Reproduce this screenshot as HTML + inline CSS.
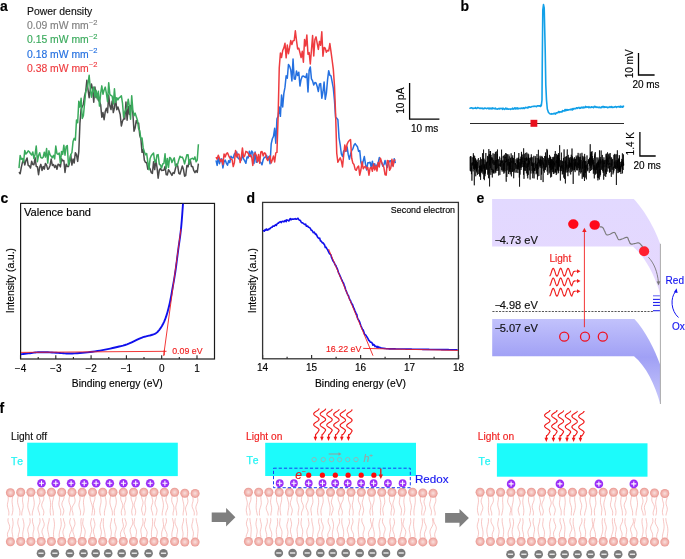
<!DOCTYPE html>
<html><head><meta charset="utf-8"><style>
html,body{margin:0;padding:0;background:#fff;width:685px;height:559px;overflow:hidden}
svg{display:block;will-change:transform}
text{font-family:"Liberation Sans",sans-serif}
</style></head><body>
<svg width="685" height="559" viewBox="0 0 685 559">
<text x="0" y="11" font-size="14" font-weight="bold" font-family="Liberation Sans, sans-serif" stroke="#000" stroke-width="0.15">a</text>
<text x="460.4" y="11" font-size="14" font-weight="bold" font-family="Liberation Sans, sans-serif" stroke="#000" stroke-width="0.15">b</text>
<text x="0.5" y="203" font-size="14" font-weight="bold" font-family="Liberation Sans, sans-serif" stroke="#000" stroke-width="0.15">c</text>
<text x="246.5" y="203" font-size="14" font-weight="bold" font-family="Liberation Sans, sans-serif" stroke="#000" stroke-width="0.15">d</text>
<text x="476.5" y="203" font-size="14" font-weight="bold" font-family="Liberation Sans, sans-serif" stroke="#000" stroke-width="0.15">e</text>
<text x="-0.5" y="413" font-size="14" font-weight="bold" font-family="Liberation Sans, sans-serif" stroke="#000" stroke-width="0.15">f</text>
<g font-family="Liberation Sans, sans-serif" font-size="10.4" stroke="#000" stroke-width="0.15">
<text x="27" y="15.3" fill="#111" stroke="#111" stroke-width="0.15">Power density</text>
<text x="27" y="29.3" fill="#808080" stroke="#808080" stroke-width="0.15">0.09 mW mm<tspan dy="-4.2" font-size="7.5">−2</tspan></text>
<text x="27" y="43.4" fill="#3aaa5c" stroke="#3aaa5c" stroke-width="0.15">0.15 mW mm<tspan dy="-4.2" font-size="7.5">−2</tspan></text>
<text x="27" y="57.5" fill="#2470e0" stroke="#2470e0" stroke-width="0.15">0.18 mW mm<tspan dy="-4.2" font-size="7.5">−2</tspan></text>
<text x="27" y="71.6" fill="#ee3b3f" stroke="#ee3b3f" stroke-width="0.15">0.38 mW mm<tspan dy="-4.2" font-size="7.5">−2</tspan></text>
</g>
<polyline fill="none" stroke="#4a4a4a" stroke-width="1.5" stroke-linejoin="round" points="19.00,172.13 20.15,173.75 21.30,167.35 22.45,162.38 23.60,160.02 24.75,164.95 25.90,160.62 27.05,157.94 28.20,165.27 29.35,166.00 30.50,168.02 31.65,161.31 32.80,164.62 33.95,164.73 35.10,157.83 36.25,166.46 37.40,166.67 38.55,174.65 39.70,167.22 40.85,164.39 42.00,170.48 43.15,166.40 44.30,169.13 45.45,163.39 46.60,165.26 47.75,169.35 48.90,168.33 50.05,165.40 51.20,159.10 52.35,165.42 53.50,164.55 54.65,167.45 55.80,165.41 56.95,169.24 58.10,164.27 59.25,164.69 60.40,166.94 61.55,158.76 62.70,160.78 63.85,160.55 65.00,172.44 66.15,164.15 67.30,166.45 68.45,166.58 69.60,162.19 70.75,154.72 71.90,165.07 73.05,159.08 74.20,163.00 75.35,152.66 76.50,154.67 77.65,161.37 78.80,151.69 79.95,123.09 81.10,108.85 82.25,106.70 83.40,104.19 84.55,96.15 85.70,91.79 86.85,80.25 88.00,89.51 89.15,97.70 90.30,89.97 91.45,83.90 92.60,89.44 93.75,102.24 94.90,86.90 96.05,97.58 97.20,93.59 98.35,100.25 99.50,101.40 100.65,104.67 101.80,117.25 102.95,112.58 104.10,119.66 105.25,111.53 106.40,108.31 107.55,112.64 108.70,95.37 109.85,105.77 111.00,109.59 112.15,101.06 113.30,112.62 114.45,107.93 115.60,97.95 116.75,109.74 117.90,107.00 119.05,110.56 120.20,114.52 121.35,126.00 122.50,121.25 123.65,118.80 124.80,119.07 125.95,101.95 127.10,120.25 128.25,106.38 129.40,114.40 130.55,105.45 131.70,107.20 132.85,113.24 134.00,131.32 135.15,127.74 136.30,120.44 137.45,123.26 138.60,123.12 139.75,135.20 140.90,138.96 142.05,152.35 143.20,149.46 144.35,160.15 145.50,162.54 146.65,162.62 147.80,169.23 148.95,167.24 150.10,168.98 151.25,172.60 152.40,173.35 153.55,161.85 154.70,169.60 155.85,160.21 157.00,167.28 158.15,178.17 159.30,170.13 160.45,168.30 161.60,170.56 162.75,170.17 163.90,170.15 165.05,166.42 166.20,174.61 167.35,174.92 168.50,169.73 169.65,171.46 170.80,173.35 171.95,175.42 173.10,172.51 174.25,173.36 175.40,168.78 176.55,164.11 177.70,165.99 178.85,173.33 180.00,174.08 181.15,170.09 182.30,165.94 183.45,169.33 184.60,176.14 185.75,175.50 186.90,165.49 188.05,166.82 189.20,160.11 190.35,160.40 191.50,166.54 192.65,166.47 193.80,170.72 194.95,172.59 196.10,170.60 197.25,172.40 198.40,163.58"/>
<polyline fill="none" stroke="#3aaa5c" stroke-width="1.5" stroke-linejoin="round" points="19.00,168.08 20.15,155.55 21.30,159.23 22.45,158.44 23.60,161.95 24.75,150.59 25.90,154.09 27.05,152.80 28.20,150.86 29.35,151.76 30.50,153.63 31.65,155.08 32.80,151.97 33.95,158.53 35.10,154.34 36.25,145.96 37.40,161.63 38.55,155.54 39.70,152.73 40.85,157.66 42.00,158.17 43.15,157.27 44.30,152.28 45.45,157.07 46.60,148.55 47.75,163.12 48.90,150.85 50.05,154.62 51.20,156.36 52.35,157.66 53.50,155.34 54.65,158.86 55.80,146.10 56.95,153.59 58.10,154.38 59.25,153.01 60.40,163.27 61.55,151.38 62.70,154.35 63.85,145.21 65.00,155.26 66.15,146.56 67.30,145.50 68.45,165.17 69.60,160.46 70.75,154.53 71.90,152.71 73.05,141.55 74.20,138.38 75.35,140.15 76.50,119.99 77.65,122.82 78.80,101.16 79.95,107.21 81.10,98.36 82.25,118.49 83.40,115.79 84.55,103.67 85.70,91.65 86.85,88.95 88.00,83.53 89.15,75.26 90.30,88.43 91.45,97.20 92.60,90.57 93.75,87.09 94.90,96.75 96.05,90.17 97.20,98.80 98.35,91.35 99.50,106.12 100.65,93.66 101.80,85.87 102.95,94.18 104.10,89.93 105.25,87.15 106.40,93.48 107.55,101.69 108.70,82.63 109.85,94.35 111.00,95.55 112.15,96.07 113.30,103.96 114.45,88.79 115.60,102.32 116.75,97.66 117.90,99.93 119.05,97.97 120.20,97.12 121.35,95.72 122.50,103.07 123.65,117.44 124.80,111.82 125.95,109.67 127.10,107.32 128.25,99.22 129.40,106.62 130.55,119.28 131.70,95.63 132.85,110.09 134.00,115.72 135.15,113.13 136.30,116.80 137.45,120.22 138.60,128.67 139.75,130.73 140.90,139.07 142.05,138.07 143.20,147.88 144.35,151.70 145.50,154.69 146.65,153.46 147.80,161.87 148.95,169.70 150.10,158.43 151.25,155.76 152.40,154.32 153.55,153.14 154.70,161.48 155.85,162.32 157.00,154.91 158.15,154.62 159.30,164.09 160.45,165.15 161.60,167.97 162.75,164.00 163.90,163.30 165.05,153.86 166.20,168.42 167.35,158.41 168.50,167.50 169.65,157.39 170.80,158.29 171.95,162.57 173.10,159.93 174.25,157.89 175.40,165.88 176.55,165.72 177.70,164.01 178.85,159.66 180.00,156.23 181.15,157.38 182.30,157.11 183.45,159.52 184.60,163.91 185.75,159.23 186.90,154.80 188.05,154.64 189.20,164.28 190.35,159.38 191.50,158.62 192.65,158.34 193.80,159.57 194.95,156.90 196.10,161.72 197.25,160.07 198.40,144.20"/>
<polyline fill="none" stroke="#2470e0" stroke-width="1.5" stroke-linejoin="round" points="216.00,160.40 217.15,165.37 218.30,156.85 219.45,163.74 220.60,159.46 221.75,158.81 222.90,167.89 224.05,161.85 225.20,160.10 226.35,163.11 227.50,165.26 228.65,160.66 229.80,162.60 230.95,156.25 232.10,157.88 233.25,157.82 234.40,154.01 235.55,152.69 236.70,151.99 237.85,157.78 239.00,158.93 240.15,158.48 241.30,160.07 242.45,154.33 243.60,158.81 244.75,160.83 245.90,163.32 247.05,156.90 248.20,157.84 249.35,151.18 250.50,156.54 251.65,150.98 252.80,152.61 253.95,163.57 255.10,152.04 256.25,162.20 257.40,161.72 258.55,158.93 259.70,161.79 260.85,162.51 262.00,164.82 263.15,159.74 264.30,157.44 265.45,157.05 266.60,155.36 267.75,159.11 268.90,156.53 270.05,163.68 271.20,143.84 272.35,138.79 273.50,136.43 274.65,128.26 275.80,143.30 276.95,118.76 278.10,116.22 279.25,107.02 280.40,116.37 281.55,94.92 282.70,107.04 283.85,93.37 285.00,87.14 286.15,75.78 287.30,78.22 288.45,64.48 289.60,66.11 290.75,69.86 291.90,80.89 293.05,58.92 294.20,78.96 295.35,79.15 296.50,70.92 297.65,75.57 298.80,72.22 299.95,86.05 301.10,79.40 302.25,76.18 303.40,76.10 304.55,76.76 305.70,77.50 306.85,73.62 308.00,91.88 309.15,70.20 310.30,66.91 311.45,78.81 312.60,80.94 313.75,85.02 314.90,82.49 316.05,82.95 317.20,86.52 318.35,91.50 319.50,83.91 320.65,83.63 321.80,98.24 322.95,92.01 324.10,82.03 325.25,99.29 326.40,93.14 327.55,79.84 328.70,70.65 329.85,75.24 331.00,75.82 332.15,81.79 333.30,88.18 334.45,100.21 335.60,117.49 336.75,118.18 337.90,119.69 339.05,137.83 340.20,144.76 341.35,154.02 342.50,156.50 343.65,151.02 344.80,150.64 345.95,151.35 347.10,146.93 348.25,154.63 349.40,159.23 350.55,154.19 351.70,150.50 352.85,148.86 354.00,145.26 355.15,143.61 356.30,145.33 357.45,146.71 358.60,151.38 359.75,150.57 360.90,162.38 362.05,166.26 363.20,161.00 364.35,156.49 365.50,164.17 366.65,169.93 367.80,162.87 368.95,162.76 370.10,162.27 371.25,167.27 372.40,161.24 373.55,168.30 374.70,163.77 375.85,168.19 377.00,164.95 378.15,163.22 379.30,157.55 380.45,159.95 381.60,162.00 382.75,166.11 383.90,164.85 385.05,160.54 386.20,164.48 387.35,167.41 388.50,162.91 389.65,160.89 390.80,160.66 391.95,165.63 393.10,165.10 394.25,158.67 395.40,163.13"/>
<polyline fill="none" stroke="#ee3b3f" stroke-width="1.5" stroke-linejoin="round" points="216.00,157.19 217.15,159.17 218.30,155.20 219.45,158.36 220.60,161.48 221.75,159.57 222.90,164.60 224.05,154.05 225.20,156.87 226.35,153.73 227.50,152.89 228.65,155.54 229.80,157.80 230.95,159.05 232.10,159.65 233.25,166.63 234.40,162.43 235.55,150.45 236.70,156.96 237.85,154.12 239.00,154.19 240.15,162.61 241.30,156.81 242.45,147.97 243.60,157.08 244.75,155.67 245.90,151.38 247.05,151.91 248.20,153.35 249.35,156.34 250.50,154.93 251.65,157.02 252.80,165.48 253.95,154.58 255.10,152.91 256.25,155.24 257.40,161.79 258.55,154.46 259.70,163.24 260.85,151.90 262.00,151.47 263.15,155.92 264.30,152.85 265.45,153.52 266.60,158.56 267.75,160.58 268.90,158.06 270.05,155.89 271.20,163.04 272.35,159.69 273.50,156.02 274.65,161.97 275.80,152.86 276.95,152.38 278.10,116.95 279.25,67.95 280.40,52.97 281.55,57.46 282.70,50.55 283.85,47.90 285.00,43.23 286.15,57.85 287.30,45.07 288.45,53.64 289.60,47.72 290.75,40.58 291.90,44.46 293.05,40.68 294.20,40.53 295.35,30.72 296.50,40.56 297.65,48.89 298.80,48.22 299.95,52.72 301.10,57.58 302.25,51.28 303.40,62.19 304.55,39.60 305.70,45.98 306.85,35.06 308.00,54.25 309.15,52.62 310.30,64.00 311.45,50.06 312.60,35.52 313.75,55.97 314.90,39.55 316.05,36.83 317.20,43.44 318.35,49.38 319.50,41.38 320.65,45.27 321.80,31.78 322.95,56.13 324.10,47.53 325.25,48.17 326.40,52.17 327.55,50.39 328.70,50.93 329.85,43.54 331.00,51.66 332.15,60.23 333.30,69.10 334.45,85.19 335.60,113.92 336.75,153.36 337.90,162.28 339.05,160.01 340.20,157.85 341.35,160.92 342.50,166.95 343.65,155.46 344.80,144.95 345.95,150.90 347.10,144.12 348.25,141.79 349.40,140.37 350.55,139.63 351.70,158.23 352.85,163.09 354.00,164.57 355.15,169.37 356.30,170.33 357.45,167.18 358.60,165.97 359.75,175.16 360.90,169.99 362.05,161.84 363.20,168.74 364.35,167.00 365.50,166.17 366.65,168.99 367.80,167.34 368.95,175.16 370.10,168.07 371.25,167.20 372.40,171.21 373.55,163.87 374.70,169.98 375.85,165.94 377.00,171.02 378.15,162.42 379.30,166.93 380.45,158.32 381.60,162.31 382.75,164.98 383.90,167.55 385.05,174.69 386.20,175.11 387.35,160.57 388.50,161.03 389.65,170.29 390.80,167.93 391.95,159.26 393.10,166.43 394.25,160.09 395.40,160.34"/>
<path d="M409.6,83 V119.2 H439.4" fill="none" stroke="#000" stroke-width="1.3"/>
<text x="0" y="0" font-size="10" font-family="Liberation Sans, sans-serif" transform="translate(404.2,113.8) rotate(-90)" stroke="#000" stroke-width="0.15">10 pA</text>
<text x="411" y="131.9" font-size="10" font-family="Liberation Sans, sans-serif" stroke="#000" stroke-width="0.15">10 ms</text>
<polyline fill="none" stroke="#12a0e8" stroke-width="1.6" stroke-linejoin="round" points="469.50,107.91 470.00,108.19 470.50,107.95 471.00,107.93 471.50,107.72 472.00,107.99 472.50,108.46 473.00,108.23 473.50,108.46 474.00,108.20 474.50,108.26 475.00,108.20 475.50,107.56 476.00,108.46 476.50,108.35 477.00,108.36 477.50,107.60 478.00,107.60 478.50,107.91 479.00,108.07 479.50,108.35 480.00,108.24 480.50,108.45 481.00,108.06 481.50,108.40 482.00,108.44 482.50,108.09 483.00,108.93 483.50,108.54 484.00,108.77 484.50,108.15 485.00,108.12 485.50,108.27 486.00,108.37 486.50,108.64 487.00,108.51 487.50,108.28 488.00,108.12 488.50,108.28 489.00,108.90 489.50,108.21 490.00,108.59 490.50,108.66 491.00,108.01 491.50,108.56 492.00,109.02 492.50,107.87 493.00,108.48 493.50,108.57 494.00,108.33 494.50,108.81 495.00,108.63 495.50,108.15 496.00,108.97 496.50,108.93 497.00,109.04 497.50,109.22 498.00,108.86 498.50,108.79 499.00,108.31 499.50,108.99 500.00,108.58 500.50,108.65 501.00,108.38 501.50,108.50 502.00,108.67 502.50,109.32 503.00,108.17 503.50,108.39 504.00,109.00 504.50,109.43 505.00,109.14 505.50,108.29 506.00,108.09 506.50,109.11 507.00,108.74 507.50,108.58 508.00,109.29 508.50,109.30 509.00,108.94 509.50,108.95 510.00,108.99 510.50,109.36 511.00,108.99 511.50,108.93 512.00,108.91 512.50,108.15 513.00,109.12 513.50,108.97 514.00,108.80 514.50,107.89 515.00,108.33 515.50,108.82 516.00,107.87 516.50,108.41 517.00,108.80 517.50,107.96 518.00,108.95 518.50,108.55 519.00,108.28 519.50,108.42 520.00,108.51 520.50,108.29 521.00,108.62 521.50,107.96 522.00,108.02 522.50,108.50 523.00,108.12 523.50,107.78 524.00,108.39 524.50,108.54 525.00,107.84 525.50,107.41 526.00,107.74 526.50,107.63 527.00,107.47 527.50,107.96 528.00,107.00 528.50,107.70 529.00,106.71 529.50,106.77 530.00,107.16 530.50,107.23 531.00,107.03 531.50,106.74 532.00,106.56 532.50,106.46 533.00,106.50 533.50,106.20 534.00,106.32 534.50,106.39 535.00,106.15 535.50,106.38 536.00,106.27 536.50,106.74 537.00,106.11 537.50,105.81 538.00,105.79 538.50,105.88 539.00,106.17 539.50,105.69 540.00,105.91 540.50,106.38 541.00,104.80 541.30,105.70 542.00,100.00 542.30,60.00 542.80,10.00 543.50,4.60 544.20,8.00 545.20,50.00 545.80,85.00 546.50,100.00 547.30,109.00 548.50,112.50 550.00,113.80 551.30,114.10 551.50,113.67 552.00,114.05 552.50,114.01 553.00,113.86 553.50,113.53 554.00,113.82 554.50,113.59 555.00,113.22 555.50,114.13 556.00,113.27 556.50,112.83 557.00,112.87 557.50,112.70 558.00,112.63 558.50,111.55 559.00,112.17 559.50,112.53 560.00,111.61 560.50,111.83 561.00,112.03 561.50,111.83 562.00,111.89 562.50,110.61 563.00,110.92 563.50,110.77 564.00,110.94 564.50,110.94 565.00,109.46 565.50,110.69 566.00,109.70 566.50,110.35 567.00,109.50 567.50,109.99 568.00,110.25 568.50,109.68 569.00,109.71 569.50,109.82 570.00,109.50 570.50,109.32 571.00,109.80 571.50,109.53 572.00,108.97 572.50,109.94 573.00,108.48 573.50,109.11 574.00,108.60 574.50,108.64 575.00,108.75 575.50,108.51 576.00,108.59 576.50,107.76 577.00,107.70 577.50,108.37 578.00,107.75 578.50,107.66 579.00,107.44 579.50,108.33 580.00,108.08 580.50,108.27 581.00,107.35 581.50,107.61 582.00,107.15 582.50,107.75 583.00,107.97 583.50,107.03 584.00,107.82 584.50,107.55 585.00,107.07 585.50,106.38 586.00,107.49 586.50,106.97 587.00,106.80 587.50,107.16 588.00,107.17 588.50,107.56 589.00,106.69 589.50,107.45 590.00,107.58 590.50,107.57 591.00,107.01 591.50,106.82 592.00,107.44 592.50,107.13 593.00,107.14 593.50,107.61 594.00,107.02 594.50,106.32 595.00,106.99 595.50,106.49 596.00,107.43 596.50,107.26 597.00,106.94 597.50,107.16 598.00,107.46 598.50,107.21 599.00,107.65 599.50,107.17 600.00,107.56 600.50,107.72 601.00,107.76 601.50,106.95 602.00,107.49 602.50,106.52 603.00,106.80 603.50,106.48 604.00,107.54 604.50,106.73 605.00,107.15 605.50,107.09 606.00,107.14 606.50,106.94 607.00,107.22 607.50,107.76 608.00,107.15 608.50,107.32 609.00,107.48 609.50,107.05 610.00,106.68 610.50,106.92 611.00,107.48 611.50,106.53 612.00,106.89 612.50,107.45 613.00,107.37 613.50,107.09 614.00,107.37 614.50,107.14 615.00,106.66 615.50,106.52 616.00,106.84 616.50,107.39 617.00,106.86 617.50,106.74 618.00,106.78 618.50,106.51 619.00,107.00 619.50,106.62 620.00,107.16 620.50,106.20 621.00,107.14 621.50,106.80 622.00,106.34 622.50,107.27 623.00,106.91 623.50,106.22 624.00,106.69"/>
<line x1="470" y1="123.5" x2="624" y2="123.5" stroke="#2a2a2a" stroke-width="1"/>
<rect x="530.5" y="119.8" width="6.8" height="7" fill="#e8101e"/>
<polyline fill="none" stroke="#000" stroke-width="0.7" points="470.00,156.79 470.12,166.88 470.24,170.77 470.36,161.27 470.48,156.13 470.60,164.09 470.72,167.51 470.84,171.42 470.96,156.84 471.08,156.35 471.20,168.95 471.32,167.49 471.44,174.16 471.56,170.69 471.68,163.86 471.80,162.77 471.92,180.69 472.04,162.68 472.16,159.55 472.28,157.33 472.40,165.10 472.52,165.42 472.64,162.33 472.76,164.11 472.88,166.22 473.00,168.86 473.12,171.41 473.24,165.82 473.36,153.22 473.48,168.92 473.60,155.56 473.72,163.42 473.84,155.22 473.96,164.51 474.08,159.60 474.20,165.85 474.32,185.29 474.44,164.19 474.56,169.81 474.68,156.16 474.80,162.69 474.92,168.67 475.04,163.92 475.16,166.83 475.28,165.15 475.40,158.16 475.52,168.05 475.64,159.38 475.76,176.29 475.88,161.32 476.00,168.82 476.12,164.51 476.24,170.50 476.36,160.71 476.48,170.79 476.60,163.72 476.72,172.46 476.84,168.43 476.96,165.39 477.08,159.58 477.20,169.34 477.32,167.45 477.44,174.84 477.56,162.12 477.68,167.99 477.80,167.70 477.92,166.28 478.04,165.81 478.16,165.65 478.28,160.73 478.40,158.11 478.52,162.00 478.64,168.22 478.76,174.02 478.88,170.66 479.00,171.14 479.12,169.40 479.24,168.90 479.36,165.66 479.48,169.36 479.60,175.67 479.72,162.44 479.84,160.13 479.96,176.85 480.08,166.04 480.20,170.62 480.32,170.01 480.44,157.34 480.56,179.83 480.68,175.69 480.80,165.61 480.92,169.24 481.04,165.30 481.16,158.93 481.28,163.79 481.40,166.86 481.52,171.53 481.64,168.97 481.76,164.87 481.88,173.04 482.00,159.71 482.12,169.50 482.24,171.51 482.36,162.66 482.48,153.22 482.60,158.79 482.72,165.99 482.84,167.83 482.96,174.25 483.08,158.17 483.20,164.51 483.32,168.59 483.44,163.51 483.56,149.57 483.68,169.58 483.80,179.07 483.92,170.83 484.04,158.72 484.16,161.90 484.28,165.90 484.40,180.18 484.52,168.39 484.64,165.22 484.76,174.31 484.88,163.99 485.00,176.23 485.12,160.18 485.24,161.51 485.36,169.04 485.48,173.47 485.60,168.62 485.72,166.40 485.84,153.02 485.96,160.01 486.08,160.65 486.20,161.14 486.32,168.19 486.44,162.39 486.56,169.46 486.68,165.02 486.80,162.40 486.92,165.24 487.04,167.20 487.16,169.91 487.28,161.49 487.40,163.03 487.52,155.91 487.64,174.60 487.76,173.65 487.88,163.37 488.00,161.49 488.12,156.71 488.24,165.57 488.36,165.80 488.48,178.24 488.60,166.05 488.72,159.60 488.84,149.10 488.96,173.38 489.08,165.69 489.20,154.36 489.32,165.64 489.44,154.37 489.56,186.43 489.68,171.55 489.80,168.11 489.92,163.40 490.04,151.02 490.16,163.70 490.28,154.71 490.40,168.26 490.52,151.03 490.64,158.78 490.76,172.18 490.88,174.86 491.00,157.06 491.12,154.84 491.24,170.04 491.36,169.87 491.48,158.28 491.60,160.13 491.72,160.13 491.84,157.01 491.96,160.21 492.08,172.38 492.20,168.84 492.32,177.46 492.44,163.96 492.56,163.65 492.68,158.31 492.80,163.72 492.92,156.23 493.04,153.30 493.16,168.89 493.28,173.57 493.40,169.77 493.52,172.89 493.64,166.09 493.76,159.98 493.88,165.04 494.00,162.14 494.12,157.50 494.24,153.84 494.36,155.16 494.48,164.47 494.60,165.45 494.72,161.51 494.84,173.50 494.96,165.63 495.08,168.17 495.20,172.18 495.32,159.33 495.44,152.09 495.56,169.24 495.68,160.16 495.80,172.76 495.92,166.63 496.04,170.84 496.16,169.31 496.28,151.39 496.40,169.03 496.52,160.26 496.64,159.74 496.76,161.76 496.88,169.34 497.00,170.07 497.12,170.87 497.24,154.04 497.36,160.78 497.48,149.53 497.60,163.86 497.72,168.28 497.84,159.69 497.96,166.04 498.08,165.96 498.20,170.85 498.32,159.33 498.44,159.28 498.56,159.69 498.68,175.54 498.80,171.37 498.92,163.72 499.04,165.92 499.16,165.22 499.28,165.78 499.40,163.19 499.52,162.39 499.64,156.58 499.76,160.46 499.88,174.90 500.00,167.88 500.12,164.91 500.24,163.15 500.36,164.89 500.48,166.73 500.60,160.43 500.72,165.74 500.84,166.01 500.96,159.78 501.08,159.53 501.20,158.21 501.32,157.80 501.44,170.11 501.56,149.63 501.68,162.82 501.80,160.65 501.92,160.60 502.04,165.11 502.16,171.61 502.28,164.98 502.40,163.62 502.52,160.64 502.64,163.69 502.76,170.25 502.88,162.02 503.00,157.28 503.12,156.54 503.24,157.53 503.36,155.74 503.48,171.42 503.60,166.74 503.72,163.00 503.84,173.70 503.96,160.36 504.08,169.24 504.20,169.55 504.32,154.76 504.44,154.69 504.56,158.66 504.68,170.21 504.80,172.67 504.92,156.77 505.04,171.11 505.16,162.09 505.28,162.02 505.40,161.03 505.52,162.46 505.64,153.04 505.76,158.19 505.88,156.72 506.00,167.59 506.12,177.66 506.24,181.71 506.36,162.38 506.48,153.66 506.60,161.94 506.72,158.58 506.84,176.99 506.96,168.10 507.08,159.91 507.20,170.40 507.32,167.88 507.44,154.26 507.56,161.15 507.68,162.99 507.80,164.62 507.92,165.33 508.04,162.36 508.16,165.70 508.28,160.81 508.40,158.85 508.52,174.05 508.64,166.77 508.76,167.26 508.88,154.45 509.00,163.45 509.12,169.66 509.24,156.37 509.36,171.42 509.48,162.05 509.60,167.04 509.72,163.66 509.84,165.88 509.96,172.08 510.08,161.96 510.20,174.36 510.32,159.57 510.44,158.63 510.56,168.98 510.68,157.78 510.80,162.17 510.92,170.21 511.04,172.13 511.16,153.32 511.28,167.69 511.40,176.37 511.52,172.03 511.64,162.99 511.76,160.72 511.88,162.63 512.00,157.24 512.12,162.83 512.24,163.32 512.36,163.58 512.48,171.95 512.60,163.05 512.72,155.32 512.84,171.12 512.96,157.74 513.08,161.68 513.20,163.66 513.32,162.33 513.44,158.18 513.56,162.93 513.68,178.26 513.80,160.68 513.92,163.64 514.04,171.58 514.16,169.19 514.28,169.31 514.40,169.93 514.52,152.10 514.64,159.06 514.76,165.31 514.88,167.64 515.00,172.65 515.12,167.46 515.24,163.00 515.36,164.75 515.48,163.17 515.60,166.06 515.72,168.75 515.84,162.36 515.96,159.37 516.08,159.12 516.20,171.41 516.32,172.57 516.44,170.75 516.56,169.90 516.68,169.75 516.80,164.49 516.92,168.68 517.04,157.87 517.16,163.22 517.28,159.88 517.40,169.08 517.52,160.85 517.64,163.82 517.76,167.02 517.88,173.03 518.00,159.51 518.12,158.59 518.24,169.65 518.36,157.53 518.48,167.35 518.60,160.91 518.72,163.83 518.84,153.03 518.96,168.99 519.08,161.35 519.20,158.84 519.32,177.59 519.44,168.98 519.56,186.61 519.68,167.07 519.80,162.31 519.92,165.18 520.04,174.62 520.16,164.33 520.28,167.34 520.40,167.75 520.52,158.77 520.64,165.31 520.76,161.33 520.88,156.65 521.00,169.99 521.12,168.69 521.24,164.97 521.36,158.78 521.48,151.86 521.60,167.56 521.72,163.88 521.84,153.89 521.96,164.12 522.08,154.92 522.20,164.33 522.32,165.40 522.44,166.74 522.56,165.87 522.68,165.58 522.80,157.32 522.92,162.08 523.04,161.28 523.16,163.02 523.28,166.20 523.40,168.40 523.52,174.80 523.64,148.32 523.76,167.03 523.88,163.25 524.00,178.84 524.12,170.38 524.24,154.09 524.36,167.03 524.48,161.22 524.60,170.76 524.72,157.85 524.84,163.86 524.96,163.67 525.08,163.89 525.20,160.82 525.32,152.92 525.44,167.40 525.56,170.79 525.68,164.07 525.80,158.09 525.92,165.78 526.04,168.06 526.16,163.39 526.28,164.41 526.40,173.38 526.52,157.45 526.64,160.99 526.76,152.49 526.88,160.09 527.00,159.84 527.12,158.45 527.24,160.13 527.36,175.82 527.48,163.26 527.60,163.78 527.72,178.35 527.84,164.12 527.96,153.58 528.08,167.04 528.20,158.60 528.32,174.82 528.44,156.65 528.56,160.84 528.68,154.38 528.80,165.11 528.92,158.10 529.04,164.09 529.16,162.13 529.28,160.64 529.40,170.44 529.52,170.39 529.64,164.89 529.76,158.83 529.88,157.76 530.00,166.20 530.12,179.56 530.24,161.62 530.36,159.56 530.48,160.11 530.60,157.60 530.72,158.37 530.84,163.21 530.96,173.53 531.08,164.49 531.20,161.28 531.32,154.33 531.44,165.84 531.56,164.33 531.68,156.77 531.80,157.65 531.92,164.23 532.04,170.88 532.16,168.45 532.28,165.80 532.40,162.46 532.52,166.52 532.64,164.42 532.76,178.19 532.88,157.37 533.00,162.18 533.12,172.49 533.24,162.83 533.36,173.48 533.48,164.22 533.60,165.42 533.72,162.17 533.84,155.80 533.96,158.38 534.08,178.45 534.20,168.57 534.32,168.32 534.44,170.51 534.56,168.09 534.68,170.94 534.80,162.82 534.92,163.09 535.04,170.70 535.16,162.28 535.28,156.12 535.40,163.08 535.52,161.07 535.64,168.36 535.76,159.96 535.88,157.81 536.00,162.41 536.12,174.28 536.24,164.20 536.36,165.51 536.48,164.56 536.60,166.36 536.72,170.35 536.84,173.29 536.96,154.14 537.08,173.08 537.20,164.48 537.32,162.48 537.44,179.61 537.56,163.43 537.68,176.75 537.80,170.60 537.92,158.01 538.04,167.58 538.16,169.14 538.28,163.71 538.40,149.83 538.52,162.33 538.64,163.29 538.76,157.52 538.88,176.00 539.00,162.96 539.12,162.02 539.24,162.61 539.36,159.56 539.48,159.61 539.60,165.09 539.72,166.47 539.84,161.30 539.96,163.93 540.08,155.74 540.20,167.79 540.32,159.78 540.44,165.85 540.56,158.79 540.68,161.25 540.80,165.85 540.92,156.87 541.04,180.06 541.16,164.27 541.28,164.04 541.40,159.87 541.52,174.55 541.64,173.23 541.76,166.39 541.88,155.88 542.00,161.32 542.12,168.38 542.24,161.27 542.36,157.04 542.48,157.02 542.60,159.64 542.72,164.59 542.84,160.41 542.96,164.61 543.08,182.09 543.20,175.67 543.32,157.96 543.44,166.66 543.56,165.05 543.68,163.63 543.80,171.07 543.92,162.41 544.04,162.45 544.16,162.14 544.28,163.87 544.40,172.60 544.52,169.39 544.64,156.05 544.76,161.72 544.88,159.47 545.00,169.64 545.12,165.92 545.24,170.11 545.36,164.11 545.48,152.47 545.60,167.34 545.72,165.93 545.84,167.70 545.96,156.29 546.08,165.01 546.20,160.17 546.32,160.17 546.44,166.73 546.56,166.72 546.68,158.88 546.80,153.71 546.92,148.91 547.04,160.88 547.16,171.57 547.28,164.15 547.40,150.32 547.52,159.07 547.64,167.16 547.76,175.04 547.88,171.86 548.00,166.81 548.12,165.74 548.24,157.83 548.36,161.65 548.48,162.40 548.60,159.62 548.72,164.90 548.84,162.03 548.96,166.62 549.08,173.53 549.20,169.17 549.32,167.13 549.44,162.98 549.56,154.92 549.68,163.78 549.80,167.92 549.92,158.15 550.04,172.40 550.16,162.40 550.28,166.84 550.40,162.43 550.52,156.59 550.64,177.53 550.76,157.18 550.88,170.29 551.00,161.00 551.12,166.26 551.24,159.42 551.36,161.88 551.48,170.30 551.60,176.76 551.72,159.17 551.84,164.56 551.96,170.47 552.08,160.53 552.20,168.98 552.32,159.56 552.44,168.30 552.56,167.25 552.68,172.13 552.80,166.79 552.92,156.98 553.04,168.69 553.16,157.56 553.28,169.23 553.40,174.02 553.52,168.25 553.64,161.01 553.76,172.01 553.88,165.56 554.00,156.66 554.12,162.27 554.24,173.44 554.36,162.58 554.48,165.27 554.60,162.34 554.72,153.88 554.84,161.28 554.96,166.75 555.08,165.81 555.20,163.40 555.32,151.05 555.44,172.20 555.56,169.03 555.68,170.95 555.80,172.69 555.92,161.70 556.04,160.69 556.16,166.48 556.28,175.04 556.40,153.88 556.52,163.05 556.64,159.99 556.76,168.02 556.88,173.73 557.00,162.64 557.12,156.68 557.24,164.81 557.36,162.70 557.48,154.78 557.60,170.08 557.72,161.20 557.84,168.80 557.96,156.21 558.08,171.41 558.20,155.42 558.32,171.14 558.44,153.09 558.56,173.19 558.68,162.14 558.80,154.70 558.92,163.02 559.04,166.63 559.16,158.26 559.28,161.39 559.40,166.20 559.52,163.44 559.64,145.19 559.76,161.79 559.88,167.19 560.00,166.37 560.12,170.86 560.24,160.15 560.36,180.59 560.48,169.54 560.60,166.47 560.72,171.34 560.84,170.51 560.96,165.14 561.08,160.59 561.20,170.95 561.32,167.17 561.44,152.58 561.56,157.54 561.68,167.44 561.80,165.18 561.92,166.26 562.04,168.54 562.16,165.42 562.28,174.47 562.40,160.79 562.52,161.98 562.64,166.53 562.76,169.20 562.88,169.46 563.00,173.87 563.12,161.50 563.24,171.85 563.36,167.45 563.48,157.93 563.60,163.63 563.72,177.64 563.84,169.45 563.96,161.54 564.08,149.39 564.20,159.87 564.32,160.07 564.44,164.99 564.56,179.06 564.68,169.20 564.80,166.47 564.92,158.61 565.04,157.03 565.16,163.19 565.28,161.55 565.40,183.44 565.52,161.95 565.64,160.62 565.76,171.61 565.88,164.99 566.00,156.72 566.12,172.62 566.24,162.53 566.36,156.13 566.48,166.52 566.60,167.57 566.72,162.37 566.84,168.89 566.96,169.67 567.08,158.94 567.20,151.54 567.32,149.43 567.44,163.69 567.56,172.25 567.68,170.82 567.80,173.27 567.92,176.19 568.04,164.60 568.16,171.15 568.28,154.87 568.40,168.84 568.52,166.97 568.64,163.91 568.76,161.71 568.88,157.47 569.00,165.38 569.12,172.55 569.24,162.19 569.36,167.85 569.48,160.31 569.60,166.10 569.72,158.15 569.84,166.88 569.96,163.13 570.08,166.49 570.20,160.68 570.32,157.09 570.44,162.43 570.56,171.03 570.68,174.45 570.80,162.45 570.92,169.54 571.04,169.28 571.16,166.97 571.28,154.73 571.40,166.54 571.52,158.39 571.64,171.91 571.76,169.47 571.88,168.39 572.00,148.52 572.12,168.41 572.24,168.91 572.36,156.45 572.48,170.61 572.60,164.98 572.72,163.35 572.84,160.01 572.96,158.08 573.08,161.77 573.20,183.94 573.32,165.78 573.44,165.81 573.56,160.42 573.68,160.61 573.80,161.02 573.92,158.92 574.04,170.02 574.16,162.80 574.28,169.96 574.40,157.22 574.52,170.35 574.64,164.33 574.76,168.70 574.88,163.84 575.00,158.91 575.12,172.13 575.24,161.76 575.36,163.57 575.48,158.92 575.60,165.79 575.72,162.05 575.84,166.28 575.96,166.67 576.08,160.16 576.20,155.61 576.32,167.23 576.44,170.28 576.56,168.89 576.68,157.28 576.80,168.31 576.92,166.92 577.04,166.29 577.16,167.21 577.28,162.46 577.40,165.85 577.52,170.34 577.64,161.32 577.76,155.43 577.88,163.84 578.00,165.74 578.12,152.88 578.24,160.24 578.36,168.21 578.48,163.55 578.60,165.08 578.72,156.57 578.84,170.21 578.96,175.55 579.08,163.24 579.20,159.89 579.32,157.21 579.44,170.11 579.56,165.16 579.68,159.50 579.80,172.15 579.92,169.32 580.04,168.30 580.16,153.41 580.28,163.85 580.40,168.44 580.52,156.79 580.64,170.35 580.76,173.51 580.88,171.01 581.00,159.95 581.12,160.04 581.24,170.43 581.36,170.76 581.48,172.24 581.60,172.06 581.72,163.87 581.84,161.92 581.96,152.81 582.08,169.44 582.20,178.84 582.32,161.58 582.44,161.50 582.56,168.59 582.68,166.86 582.80,155.87 582.92,160.00 583.04,157.58 583.16,177.24 583.28,159.98 583.40,169.88 583.52,176.58 583.64,176.44 583.76,173.48 583.88,174.77 584.00,156.72 584.12,162.32 584.24,159.91 584.36,162.67 584.48,181.01 584.60,153.92 584.72,168.02 584.84,156.71 584.96,172.93 585.08,172.69 585.20,161.28 585.32,177.54 585.44,164.97 585.56,172.71 585.68,166.46 585.80,160.97 585.92,162.10 586.04,163.76 586.16,168.39 586.28,165.29 586.40,179.37 586.52,163.28 586.64,161.56 586.76,159.97 586.88,159.60 587.00,155.43 587.12,158.29 587.24,170.21 587.36,164.88 587.48,163.42 587.60,166.71 587.72,171.23 587.84,168.38 587.96,169.37 588.08,160.97 588.20,162.85 588.32,159.61 588.44,163.89 588.56,159.35 588.68,162.15 588.80,163.40 588.92,163.14 589.04,162.82 589.16,161.40 589.28,172.75 589.40,162.34 589.52,158.13 589.64,165.72 589.76,157.64 589.88,157.74 590.00,165.03 590.12,154.00 590.24,144.22 590.36,166.32 590.48,171.02 590.60,153.97 590.72,158.85 590.84,168.14 590.96,151.98 591.08,158.99 591.20,156.91 591.32,163.25 591.44,152.07 591.56,170.14 591.68,163.59 591.80,166.41 591.92,162.43 592.04,151.14 592.16,163.54 592.28,156.05 592.40,164.56 592.52,159.13 592.64,162.50 592.76,163.17 592.88,169.37 593.00,169.33 593.12,158.17 593.24,164.40 593.36,173.69 593.48,167.61 593.60,159.91 593.72,163.74 593.84,162.31 593.96,170.43 594.08,164.71 594.20,166.86 594.32,178.43 594.44,155.82 594.56,158.11 594.68,153.59 594.80,154.47 594.92,169.90 595.04,166.34 595.16,174.78 595.28,152.06 595.40,158.95 595.52,173.60 595.64,170.98 595.76,170.07 595.88,169.99 596.00,164.70 596.12,164.44 596.24,164.70 596.36,169.81 596.48,163.47 596.60,166.52 596.72,173.66 596.84,157.41 596.96,159.77 597.08,168.06 597.20,162.84 597.32,163.51 597.44,177.72 597.56,167.12 597.68,161.87 597.80,171.42 597.92,180.36 598.04,157.51 598.16,160.28 598.28,165.23 598.40,160.49 598.52,178.18 598.64,167.81 598.76,161.99 598.88,167.59 599.00,159.49 599.12,160.69 599.24,165.17 599.36,179.54 599.48,150.32 599.60,167.15 599.72,173.01 599.84,169.16 599.96,176.61 600.08,167.34 600.20,165.42 600.32,163.67 600.44,159.10 600.56,174.80 600.68,157.05 600.80,163.72 600.92,161.20 601.04,159.55 601.16,150.50 601.28,162.09 601.40,165.36 601.52,165.40 601.64,169.82 601.76,163.48 601.88,160.46 602.00,166.44 602.12,168.69 602.24,158.81 602.36,154.93 602.48,158.04 602.60,171.16 602.72,170.79 602.84,158.92 602.96,165.20 603.08,169.78 603.20,172.87 603.32,160.35 603.44,162.99 603.56,173.38 603.68,179.69 603.80,174.14 603.92,157.31 604.04,167.33 604.16,162.62 604.28,164.13 604.40,160.32 604.52,161.48 604.64,164.44 604.76,175.86 604.88,168.91 605.00,167.19 605.12,164.67 605.24,159.77 605.36,163.06 605.48,172.31 605.60,169.73 605.72,176.87 605.84,166.14 605.96,164.37 606.08,154.30 606.20,167.01 606.32,153.64 606.44,174.11 606.56,160.53 606.68,164.50 606.80,155.99 606.92,161.38 607.04,158.63 607.16,171.63 607.28,166.06 607.40,157.07 607.52,152.33 607.64,164.07 607.76,161.43 607.88,157.50 608.00,168.22 608.12,163.33 608.24,165.20 608.36,160.78 608.48,160.91 608.60,161.60 608.72,154.40 608.84,168.47 608.96,167.04 609.08,153.64 609.20,165.14 609.32,171.77 609.44,165.99 609.56,172.66 609.68,162.81 609.80,164.51 609.92,156.31 610.04,158.80 610.16,153.01 610.28,158.86 610.40,166.04 610.52,167.77 610.64,171.83 610.76,165.32 610.88,158.26 611.00,167.22 611.12,163.58 611.24,175.74 611.36,176.84 611.48,170.55 611.60,157.34 611.72,161.19 611.84,165.70 611.96,160.01 612.08,167.80 612.20,168.82 612.32,169.78 612.44,165.94 612.56,158.93 612.68,159.19 612.80,163.72 612.92,172.86 613.04,174.42 613.16,170.66 613.28,166.79 613.40,168.76 613.52,169.68 613.64,172.64 613.76,169.89 613.88,154.83 614.00,170.51 614.12,166.93 614.24,161.60 614.36,167.81 614.48,166.32 614.60,164.16 614.72,153.86 614.84,165.20 614.96,168.01 615.08,164.19 615.20,154.49 615.32,167.39 615.44,169.03 615.56,165.64 615.68,167.18 615.80,162.28 615.92,160.35 616.04,167.80 616.16,162.26 616.28,165.65 616.40,185.01 616.52,168.99 616.64,165.35 616.76,154.28 616.88,165.11 617.00,169.28 617.12,160.06 617.24,163.00 617.36,150.30 617.48,168.00 617.60,160.75 617.72,168.81 617.84,173.10 617.96,163.48 618.08,170.70 618.20,166.08 618.32,163.21 618.44,162.73 618.56,159.14 618.68,172.59 618.80,170.05 618.92,158.16 619.04,169.81 619.16,159.90 619.28,155.02 619.40,172.05 619.52,156.44 619.64,171.96 619.76,165.76 619.88,170.18 620.00,167.72 620.12,171.77 620.24,166.69 620.36,168.14 620.48,166.07 620.60,171.40 620.72,162.03 620.84,170.90 620.96,173.99 621.08,164.10 621.20,167.27 621.32,161.26 621.44,162.68 621.56,166.14 621.68,162.35 621.80,158.92 621.92,164.31 622.04,165.71 622.16,166.54 622.28,168.97 622.40,153.32 622.52,173.40 622.64,163.42 622.76,159.64 622.88,162.16 623.00,167.29 623.12,169.98 623.24,162.19 623.36,165.49 623.48,154.45 623.60,165.57 623.72,163.79"/>
<path d="M638.5,53.1 V75 H654.6" fill="none" stroke="#000" stroke-width="1.3"/>
<text font-size="10" font-family="Liberation Sans, sans-serif" transform="translate(633.3,78.3) rotate(-90)" stroke="#000" stroke-width="0.15">10 mV</text>
<text x="632.4" y="87.8" font-size="10" font-family="Liberation Sans, sans-serif" stroke="#000" stroke-width="0.15">20 ms</text>
<path d="M639.9,132 V156 H655.7" fill="none" stroke="#000" stroke-width="1.3"/>
<text font-size="10" font-family="Liberation Sans, sans-serif" transform="translate(634.3,155.4) rotate(-90)" stroke="#000" stroke-width="0.15">1.4 K</text>
<text x="633.5" y="168.9" font-size="10" font-family="Liberation Sans, sans-serif" stroke="#000" stroke-width="0.15">20 ms</text>
<rect x="20.6" y="203.4" width="193.9" height="155.6" fill="none" stroke="#1a1a1a" stroke-width="1.2"/>
<line x1="20.5" y1="359" x2="20.5" y2="355.2" stroke="#222" stroke-width="1.1"/>
<text x="20.5" y="371.5" font-size="10" text-anchor="middle" font-family="Liberation Sans, sans-serif" stroke="#000" stroke-width="0.15">−4</text>
<line x1="55.8" y1="359" x2="55.8" y2="355.2" stroke="#222" stroke-width="1.1"/>
<text x="55.8" y="371.5" font-size="10" text-anchor="middle" font-family="Liberation Sans, sans-serif" stroke="#000" stroke-width="0.15">−3</text>
<line x1="91.1" y1="359" x2="91.1" y2="355.2" stroke="#222" stroke-width="1.1"/>
<text x="91.1" y="371.5" font-size="10" text-anchor="middle" font-family="Liberation Sans, sans-serif" stroke="#000" stroke-width="0.15">−2</text>
<line x1="126.4" y1="359" x2="126.4" y2="355.2" stroke="#222" stroke-width="1.1"/>
<text x="126.4" y="371.5" font-size="10" text-anchor="middle" font-family="Liberation Sans, sans-serif" stroke="#000" stroke-width="0.15">−1</text>
<line x1="161.7" y1="359" x2="161.7" y2="355.2" stroke="#222" stroke-width="1.1"/>
<text x="161.7" y="371.5" font-size="10" text-anchor="middle" font-family="Liberation Sans, sans-serif" stroke="#000" stroke-width="0.15">0</text>
<line x1="197.0" y1="359" x2="197.0" y2="355.2" stroke="#222" stroke-width="1.1"/>
<text x="197.0" y="371.5" font-size="10" text-anchor="middle" font-family="Liberation Sans, sans-serif" stroke="#000" stroke-width="0.15">1</text>
<line x1="38.2" y1="359" x2="38.2" y2="357" stroke="#222" stroke-width="1.1"/>
<line x1="73.4" y1="359" x2="73.4" y2="357" stroke="#222" stroke-width="1.1"/>
<line x1="108.8" y1="359" x2="108.8" y2="357" stroke="#222" stroke-width="1.1"/>
<line x1="144.0" y1="359" x2="144.0" y2="357" stroke="#222" stroke-width="1.1"/>
<line x1="179.3" y1="359" x2="179.3" y2="357" stroke="#222" stroke-width="1.1"/>
<text x="24" y="215.5" font-size="11.1" font-family="Liberation Sans, sans-serif" stroke="#000" stroke-width="0.15">Valence band</text>
<text font-size="10.3" text-anchor="middle" font-family="Liberation Sans, sans-serif" transform="translate(13.9,280.6) rotate(-90)" stroke="#000" stroke-width="0.15">Intensity (a.u.)</text>
<text x="117.3" y="386.7" font-size="10.3" text-anchor="middle" font-family="Liberation Sans, sans-serif" stroke="#000" stroke-width="0.15">Binding energy (eV)</text>
<polyline fill="none" stroke="#1010ec" stroke-width="1.9" stroke-linejoin="round" points="21.00,354.30 21.99,354.18 23.37,354.01 25.00,353.81 26.74,353.59 28.45,353.38 30.00,353.20 31.37,353.03 32.67,352.85 33.94,352.68 35.22,352.53 36.56,352.40 38.00,352.30 39.53,352.24 41.11,352.21 42.75,352.20 44.44,352.21 46.19,352.25 48.00,352.30 49.91,352.38 51.93,352.49 54.00,352.62 56.07,352.76 58.09,352.89 60.00,353.00 61.72,353.11 63.30,353.23 64.81,353.35 66.37,353.44 68.07,353.50 70.00,353.50 72.21,353.44 74.63,353.34 77.19,353.21 79.81,353.03 82.44,352.83 85.00,352.60 87.50,352.34 90.00,352.06 92.50,351.74 95.00,351.39 97.50,351.01 100.00,350.60 102.53,350.15 105.11,349.65 107.69,349.13 110.22,348.58 112.67,348.04 115.00,347.50 117.15,347.01 119.16,346.55 121.08,346.09 122.99,345.59 124.94,345.01 127.00,344.30 129.28,343.39 131.75,342.29 134.26,341.11 136.69,339.94 138.88,338.91 140.70,338.10 142.08,337.55 143.11,337.19 143.92,336.95 144.61,336.78 145.30,336.61 146.10,336.40 147.02,336.15 147.96,335.91 148.91,335.68 149.83,335.46 150.70,335.23 151.50,335.00 152.23,334.77 152.90,334.56 153.52,334.34 154.10,334.12 154.66,333.87 155.20,333.60 155.70,333.31 156.16,333.03 156.58,332.73 157.00,332.38 157.43,331.98 157.90,331.50 158.40,330.94 158.93,330.32 159.47,329.64 160.01,328.91 160.56,328.13 161.10,327.30 161.64,326.42 162.19,325.49 162.73,324.51 163.27,323.48 163.80,322.41 164.30,321.30 164.78,320.15 165.26,318.94 165.71,317.70 166.16,316.42 166.58,315.12 167.00,313.80 167.40,312.44 167.79,311.03 168.17,309.59 168.53,308.16 168.87,306.75 169.20,305.40 169.50,304.13 169.78,302.92 170.04,301.74 170.29,300.55 170.54,299.31 170.80,298.00 171.05,296.69 171.29,295.41 171.52,294.10 171.77,292.65 172.06,290.98 172.40,289.00 172.81,286.69 173.27,284.11 173.77,281.31 174.29,278.33 174.80,275.22 175.30,272.00 175.78,268.61 176.27,265.00 176.76,261.25 177.24,257.44 177.72,253.67 178.20,250.00 178.68,246.49 179.17,243.08 179.66,239.70 180.13,236.27 180.58,232.73 181.00,229.00 181.40,224.75 181.80,219.98 182.18,215.09 182.51,210.49 182.79,206.59 183.00,203.80"/>
<path d="M21,352.4 L166.5,351.3" fill="none" stroke="#f02020" stroke-width="0.9"/>
<path d="M163.6,355.8 L181,228.8" fill="none" stroke="#f02020" stroke-width="0.9"/>
<path d="M164.3,349.9 V355.3" stroke="#f02020" stroke-width="0.9"/>
<text x="172.2" y="353.9" font-size="8.8" fill="#f02020" font-family="Liberation Sans, sans-serif" stroke="#f02020" stroke-width="0.15">0.09 eV</text>
<rect x="262.6" y="202.4" width="195.79999999999995" height="156.4" fill="none" stroke="#333" stroke-width="1.3"/>
<line x1="262.6" y1="358.8" x2="262.6" y2="355.0" stroke="#333" stroke-width="1.2"/>
<text x="262.6" y="371.4" font-size="10" text-anchor="middle" font-family="Liberation Sans, sans-serif" stroke="#000" stroke-width="0.15">14</text>
<line x1="311.6" y1="358.8" x2="311.6" y2="355.0" stroke="#333" stroke-width="1.2"/>
<text x="311.6" y="371.4" font-size="10" text-anchor="middle" font-family="Liberation Sans, sans-serif" stroke="#000" stroke-width="0.15">15</text>
<line x1="360.6" y1="358.8" x2="360.6" y2="355.0" stroke="#333" stroke-width="1.2"/>
<text x="360.6" y="371.4" font-size="10" text-anchor="middle" font-family="Liberation Sans, sans-serif" stroke="#000" stroke-width="0.15">16</text>
<line x1="409.6" y1="358.8" x2="409.6" y2="355.0" stroke="#333" stroke-width="1.2"/>
<text x="409.6" y="371.4" font-size="10" text-anchor="middle" font-family="Liberation Sans, sans-serif" stroke="#000" stroke-width="0.15">17</text>
<line x1="458.6" y1="358.8" x2="458.6" y2="355.0" stroke="#333" stroke-width="1.2"/>
<text x="458.6" y="371.4" font-size="10" text-anchor="middle" font-family="Liberation Sans, sans-serif" stroke="#000" stroke-width="0.15">18</text>
<line x1="287.1" y1="358.8" x2="287.1" y2="356.8" stroke="#333" stroke-width="1.2"/>
<line x1="336.1" y1="358.8" x2="336.1" y2="356.8" stroke="#333" stroke-width="1.2"/>
<line x1="385.1" y1="358.8" x2="385.1" y2="356.8" stroke="#333" stroke-width="1.2"/>
<line x1="434.1" y1="358.8" x2="434.1" y2="356.8" stroke="#333" stroke-width="1.2"/>
<text x="455" y="212.9" font-size="8.9" text-anchor="end" font-family="Liberation Sans, sans-serif" stroke="#000" stroke-width="0.15">Second electron</text>
<text font-size="10.3" text-anchor="middle" font-family="Liberation Sans, sans-serif" transform="translate(256,280.6) rotate(-90)" stroke="#000" stroke-width="0.15">Intensity (a.u.)</text>
<text x="360.5" y="387.1" font-size="10.3" text-anchor="middle" font-family="Liberation Sans, sans-serif" stroke="#000" stroke-width="0.15">Binding energy (eV)</text>
<polyline fill="none" stroke="#1010ec" stroke-width="1.6" stroke-linejoin="round" points="263.00,230.97 263.70,230.68 264.40,231.20 265.10,229.57 265.80,230.24 266.50,228.98 267.20,230.20 267.90,229.49 268.60,229.71 269.30,228.57 270.00,228.68 270.70,227.92 271.40,227.27 272.10,227.21 272.80,226.13 273.50,226.09 274.20,226.11 274.90,225.37 275.60,224.71 276.30,225.43 277.00,224.02 277.70,223.28 278.40,223.16 279.10,222.40 279.80,222.01 280.50,221.62 281.20,222.54 281.90,221.49 282.60,221.41 283.30,221.49 284.00,221.94 284.70,220.78 285.40,220.45 286.10,221.70 286.80,219.78 287.50,220.12 288.20,220.44 288.90,221.02 289.60,219.41 290.30,218.60 291.00,219.84 291.70,219.16 292.40,219.07 293.10,219.32 293.80,219.10 294.50,219.01 295.20,218.56 295.90,219.22 296.60,219.20 297.30,218.42 298.00,218.21 298.70,219.52 299.40,220.19 300.10,220.28 300.80,221.32 301.50,222.74 302.20,222.68 302.90,223.04 303.60,223.75 304.30,224.10 305.00,224.57 305.70,224.17 306.40,226.28 307.10,226.05 307.80,226.02 308.50,227.32 309.20,227.48 309.90,227.81 310.60,228.94 311.30,230.30 312.00,230.34 312.70,231.62 313.40,232.69 314.10,232.07 314.80,233.11 315.50,234.51 316.20,234.20 316.90,235.66 317.60,237.18 318.30,237.88 319.00,238.49 319.70,238.19 320.40,240.91 321.10,241.00 321.80,242.07 322.50,242.92 323.20,242.89 323.90,243.99 324.60,245.06 325.30,247.44 326.00,247.17 326.70,248.41 327.40,249.37 328.10,250.95 328.80,252.30 329.50,253.59 330.20,254.29 330.90,254.83 331.60,257.70 332.30,259.13 333.00,260.95 333.70,261.78 334.40,262.98 335.10,264.87 335.80,265.41 336.50,267.07 337.20,268.51 337.90,270.52 338.60,272.93 339.30,274.05 340.00,275.95 340.70,277.27 341.40,279.01 342.10,280.41 342.80,282.21 343.50,282.97 344.20,285.25 344.90,286.93 345.60,289.57 346.30,291.12 347.00,292.96 347.70,294.77 348.40,295.55 349.10,297.79 349.80,299.82 350.50,300.56 351.20,302.67 351.90,303.73 352.60,304.71 353.30,307.11 354.00,308.31 354.70,310.35 355.40,311.77 356.10,313.83 356.80,314.43 357.50,318.04 358.20,319.43 358.90,320.37 359.60,321.82 360.30,323.94 361.00,325.96 361.70,327.55 362.40,329.25 363.10,329.89 363.80,331.82 364.50,334.10 365.20,334.77 365.90,335.15 366.60,336.61 367.30,337.52 368.00,338.60 368.70,340.38 369.40,340.54 370.10,341.93 370.80,342.30 371.50,342.32 372.20,343.30 372.90,345.24 373.60,344.45 374.30,344.92 375.00,346.56 375.70,346.33 376.40,346.58 377.10,347.55 377.80,346.37 378.50,347.66 379.20,347.27 379.90,347.23 380.60,347.96 381.30,348.05 382.00,348.14 382.70,348.23 383.40,348.32 384.10,348.41 384.80,348.50 385.50,348.58 386.20,348.67 386.90,348.76 387.60,348.81 388.30,348.82 389.00,348.83 389.70,348.84 390.40,348.85 391.10,348.86 391.80,348.87 392.50,348.88 393.20,348.89 393.90,348.90 394.60,348.91 395.30,348.92 396.00,348.93 396.70,348.94 397.40,348.96 398.10,348.97 398.80,348.98 399.50,348.99 400.20,349.00 400.90,349.01 401.60,349.02 402.30,349.03 403.00,349.04 403.70,349.05 404.40,349.06 405.10,349.07 405.80,349.08 406.50,349.09 407.20,349.10 407.90,349.12 408.60,349.13 409.30,349.14 410.00,349.15 410.70,349.16 411.40,349.17 412.10,349.18 412.80,349.19 413.50,349.20 414.20,349.21 414.90,349.22 415.60,349.23 416.30,349.24 417.00,349.25 417.70,349.26 418.40,349.28 419.10,349.29 419.80,349.30 420.50,349.31 421.20,349.32 421.90,349.32 422.60,349.33 423.30,349.34 424.00,349.35 424.70,349.36 425.40,349.37 426.10,349.38 426.80,349.39 427.50,349.40 428.20,349.41 428.90,349.42 429.60,349.43 430.30,349.44 431.00,349.44 431.70,349.45 432.40,349.46 433.10,349.47 433.80,349.48 434.50,349.49 435.20,349.50 435.90,349.51 436.60,349.52 437.30,349.53 438.00,349.54 438.70,349.55 439.40,349.56 440.10,349.56 440.80,349.57 441.50,349.58 442.20,349.59 442.90,349.60 443.60,349.61 444.30,349.62 445.00,349.63 445.70,349.64 446.40,349.65 447.10,349.66 447.80,349.67 448.50,349.67 449.20,349.68 449.90,349.69 450.60,349.70 451.30,349.71 452.00,349.72 452.70,349.73 453.40,349.74 454.10,349.75 454.80,349.76 455.50,349.77 456.20,349.78 456.90,349.79 457.60,349.79"/>
<path d="M328.6,249 L373,355.7" stroke="#f02020" stroke-width="0.9"/>
<path d="M363.2,348.4 L458,350.4" stroke="#f02020" stroke-width="0.9"/>
<text x="325.9" y="351.7" font-size="8.9" fill="#f02020" font-family="Liberation Sans, sans-serif" stroke="#f02020" stroke-width="0.15">16.22 eV</text>
<defs><linearGradient id="ub" x1="0" y1="0" x2="0" y2="1"><stop offset="0" stop-color="#e2d9ff"/><stop offset="1" stop-color="#e6d8fe"/></linearGradient><linearGradient id="lb" x1="0" y1="0" x2="0" y2="1"><stop offset="0" stop-color="#c6c6fb"/><stop offset="1" stop-color="#a2a2f5"/></linearGradient><linearGradient id="lb2" x1="0" y1="0" x2="0" y2="1"><stop offset="0" stop-color="#c2c2fc"/><stop offset="0.45" stop-color="#a0a0f5"/><stop offset="1" stop-color="#c8c8fb"/></linearGradient><radialGradient id="hd" cx="0.5" cy="0.5" r="0.5"><stop offset="0" stop-color="#f9e0dd"/><stop offset="0.6" stop-color="#f2b8b3"/><stop offset="1" stop-color="#e99790"/></radialGradient></defs>
<path d="M492.1,198.9 H633.7 C643,208 655,228 660.2,243.8 V294 C655,276 646,258 633,246.4 H492.1 Z" fill="url(#ub)"/>
<path d="M492.2,319 H634.4 C645,330 655,350 660.3,365 V404 C655,385 646,366 634,356.3 H492.2 Z" fill="url(#lb2)"/>
<line x1="660.4" y1="243.8" x2="660.4" y2="404" stroke="#aaa" stroke-width="1"/>
<line x1="492.4" y1="311.5" x2="653" y2="311.5" stroke="#3a3a3a" stroke-width="0.85" stroke-dasharray="2.1,1.2"/>
<line x1="653" y1="295.8" x2="659.9" y2="295.8" stroke="#6a6af5" stroke-width="1.1"/>
<line x1="653" y1="299.4" x2="659.9" y2="299.4" stroke="#2222ee" stroke-width="1.1"/>
<line x1="653" y1="302.5" x2="659.9" y2="302.5" stroke="#2222ee" stroke-width="1.1"/>
<line x1="653" y1="305.4" x2="659.9" y2="305.4" stroke="#2222ee" stroke-width="1.1"/>
<line x1="653" y1="310.7" x2="659.9" y2="310.7" stroke="#2222ee" stroke-width="1.1"/>
<g font-size="11.1" font-family="Liberation Sans, sans-serif" fill="#111" stroke="#111" stroke-width="0.15">
<text x="494.8" y="243.8"><tspan letter-spacing="-1.6">−</tspan>4.73 eV</text><text x="494.8" y="308.7"><tspan letter-spacing="-1.6">−</tspan>4.98 eV</text><text x="494.8" y="331.9"><tspan letter-spacing="-1.6">−</tspan>5.07 eV</text></g>
<ellipse cx="573.3" cy="224.1" rx="5.2" ry="4.8" fill="#ff0a1a"/>
<ellipse cx="594.7" cy="225" rx="5.2" ry="4.8" fill="#ff0a1a"/>
<ellipse cx="644.1" cy="251.3" rx="5.1" ry="5" fill="#ff2030"/>
<circle cx="564.2" cy="336.7" r="4.5" fill="none" stroke="#f01020" stroke-width="1.3"/>
<circle cx="585" cy="336.7" r="4.5" fill="none" stroke="#f01020" stroke-width="1.3"/>
<circle cx="602.8" cy="336.7" r="4.5" fill="none" stroke="#f01020" stroke-width="1.3"/>
<line x1="584.4" y1="327.2" x2="584.4" y2="231" stroke="#f02020" stroke-width="0.9"/>
<path d="M582.2,232 L584.4,227.8 L586.6,232 Z" fill="#f02020"/>
<polyline fill="none" stroke="#7a7a7a" stroke-width="1.15" stroke-linejoin="round" points="599.40,226.80 599.85,226.83 600.51,226.85 601.25,226.92 601.99,227.08 602.60,227.40 603.08,227.92 603.49,228.61 603.86,229.40 604.22,230.22 604.60,231.00 604.98,231.82 605.33,232.72 605.70,233.59 606.11,234.32 606.60,234.80 607.18,234.98 607.82,234.93 608.51,234.74 609.24,234.47 610.00,234.20 610.84,233.84 611.76,233.33 612.70,232.82 613.57,232.47 614.30,232.40 614.86,232.69 615.29,233.24 615.65,233.95 616.00,234.74 616.40,235.50 616.82,236.33 617.23,237.30 617.66,238.26 618.14,239.08 618.70,239.60 619.35,239.76 620.07,239.67 620.85,239.41 621.66,239.08 622.50,238.80 623.42,238.47 624.42,238.02 625.43,237.59 626.35,237.30 627.10,237.30 627.62,237.65 627.97,238.27 628.24,239.04 628.49,239.86 628.80,240.60 629.15,241.33 629.50,242.14 629.86,242.91 630.29,243.56 630.80,244.00 631.43,244.17 632.15,244.13 632.92,243.96 633.72,243.76 634.50,243.60 635.29,243.45 636.13,243.24 636.95,243.04 637.73,242.91 638.40,242.90 638.95,243.03 639.41,243.26 639.82,243.56 640.20,243.92 640.60,244.30 641.04,244.77 641.51,245.34 641.95,245.93 642.33,246.44 642.60,246.80"/>
<path d="M648.4,257.2 C654,263 657.5,272 658.4,282" fill="none" stroke="#777" stroke-width="0.9"/>
<path d="M656.6,281.5 L658.6,285.5 L660.3,281.3 Z" fill="#777"/>
<text x="549.5" y="261.6" font-size="10" fill="#f02020" font-family="Liberation Sans, sans-serif" stroke="#f02020" stroke-width="0.15">Light</text>
<polyline fill="none" stroke="#f02020" stroke-width="1.15" points="549.50,276.10 550.06,275.67 550.62,274.49 551.17,272.81 551.73,270.99 552.29,269.44 552.85,268.49 553.40,268.35 553.96,269.04 554.52,270.43 555.08,272.20 555.63,273.97 556.19,275.36 556.75,276.05 557.30,275.91 557.86,274.96 558.42,273.41 558.98,271.59 559.53,269.91 560.09,268.73 560.65,268.30 561.21,268.73 561.76,269.91 562.32,271.59 562.88,273.41 563.44,274.96 564.00,275.91 564.55,276.05 565.11,275.36 565.67,273.97 566.23,272.20 566.78,270.43 567.34,269.04 567.90,268.35 568.46,268.49 569.01,269.44 569.57,270.99 570.13,272.81 570.68,274.49 571.24,275.67 571.80,276.10 573.50,271.70 575.00,271.20"/>
<path d="M574.5,271.2 H578" stroke="#f02020" stroke-width="0.9"/><path d="M577,269.2 L580.5,271.2 L577,273.2 Z" fill="#f02020"/>
<polyline fill="none" stroke="#f02020" stroke-width="1.15" points="549.50,285.80 550.06,285.37 550.62,284.19 551.17,282.51 551.73,280.69 552.29,279.14 552.85,278.19 553.40,278.05 553.96,278.74 554.52,280.13 555.08,281.90 555.63,283.67 556.19,285.06 556.75,285.75 557.30,285.61 557.86,284.66 558.42,283.11 558.98,281.29 559.53,279.61 560.09,278.43 560.65,278.00 561.21,278.43 561.76,279.61 562.32,281.29 562.88,283.11 563.44,284.66 564.00,285.61 564.55,285.75 565.11,285.06 565.67,283.67 566.23,281.90 566.78,280.13 567.34,278.74 567.90,278.05 568.46,278.19 569.01,279.14 569.57,280.69 570.13,282.51 570.68,284.19 571.24,285.37 571.80,285.80 573.50,281.40 575.00,280.90"/>
<path d="M574.5,280.9 H578" stroke="#f02020" stroke-width="0.9"/><path d="M577,278.9 L580.5,280.9 L577,282.9 Z" fill="#f02020"/>
<polyline fill="none" stroke="#f02020" stroke-width="1.15" points="549.50,296.10 550.06,295.67 550.62,294.49 551.17,292.81 551.73,290.99 552.29,289.44 552.85,288.49 553.40,288.35 553.96,289.04 554.52,290.43 555.08,292.20 555.63,293.97 556.19,295.36 556.75,296.05 557.30,295.91 557.86,294.96 558.42,293.41 558.98,291.59 559.53,289.91 560.09,288.73 560.65,288.30 561.21,288.73 561.76,289.91 562.32,291.59 562.88,293.41 563.44,294.96 564.00,295.91 564.55,296.05 565.11,295.36 565.67,293.97 566.23,292.20 566.78,290.43 567.34,289.04 567.90,288.35 568.46,288.49 569.01,289.44 569.57,290.99 570.13,292.81 570.68,294.49 571.24,295.67 571.80,296.10 573.50,291.70 575.00,291.20"/>
<path d="M574.5,291.2 H578" stroke="#f02020" stroke-width="0.9"/><path d="M577,289.2 L580.5,291.2 L577,293.2 Z" fill="#f02020"/>
<text x="665.6" y="283.8" font-size="10" fill="#1414f0" font-family="Liberation Sans, sans-serif" stroke="#1414f0" stroke-width="0.15">Red</text>
<text x="671.9" y="330.2" font-size="10" fill="#1414f0" font-family="Liberation Sans, sans-serif" stroke="#1414f0" stroke-width="0.15">Ox</text>
<path d="M678.5,317.5 C671,311 670,298 675.6,291.5" fill="none" stroke="#1414f0" stroke-width="1"/>
<path d="M673.8,292.3 L676.6,288.2 L677.6,293 Z" fill="#1414f0"/>
<path d="M8.00,496.50 L8.25,498.08 L8.27,499.67 L8.04,501.25 L7.68,502.83 L7.41,504.42 L7.40,506.00 L7.70,507.58 L8.19,509.17 L8.65,510.75 L8.90,512.33 L8.87,513.92 L8.70,515.50 M8.22,518.20 L7.93,519.85 L8.05,521.49 L8.57,523.14 L9.25,524.78 L9.69,526.43 L9.65,528.08 L9.10,529.72 L8.30,531.37 L7.64,533.01 L7.40,534.66 L7.60,536.30 L8.00,537.95 M12.80,496.50 L12.42,498.08 L12.16,499.67 L12.07,501.25 L12.15,502.83 L12.36,504.42 L12.61,506.00 L12.83,507.58 L12.92,509.17 L12.85,510.75 L12.60,512.33 L12.23,513.92 L11.81,515.50 M12.49,518.20 L12.69,519.85 L12.95,521.49 L13.09,523.14 L13.00,524.78 L12.69,526.43 L12.30,528.08 L12.03,529.72 L12.00,531.37 L12.20,533.01 L12.51,534.66 L12.76,536.30 L12.80,537.95 M18.26,496.00 L17.97,497.62 L17.71,499.25 L17.59,500.88 L17.67,502.50 L17.97,504.12 L18.42,505.75 L18.95,507.38 L19.44,509.00 L19.80,510.62 L19.96,512.25 L19.91,513.88 L19.69,515.50 M18.47,518.20 L18.15,519.83 L17.83,521.45 L17.76,523.08 L18.06,524.70 L18.62,526.33 L19.19,527.95 L19.48,529.58 L19.38,531.20 L18.97,532.83 L18.49,534.45 L18.21,536.08 L18.26,537.70 M23.06,496.00 L22.74,497.62 L22.53,499.25 L22.54,500.88 L22.76,502.50 L23.04,504.12 L23.21,505.75 L23.11,507.38 L22.77,509.00 L22.31,510.62 L21.93,512.25 L21.75,513.88 L21.79,515.50 M22.76,518.20 L23.14,519.83 L23.53,521.45 L23.84,523.08 L23.99,524.70 L23.95,526.33 L23.73,527.95 L23.40,529.58 L23.05,531.20 L22.79,532.83 L22.70,534.45 L22.79,536.08 L23.06,537.70 M28.52,496.00 L28.67,497.62 L28.60,499.25 L28.38,500.88 L28.10,502.50 L27.86,504.12 L27.77,505.75 L27.89,507.38 L28.22,509.00 L28.71,510.62 L29.26,512.25 L29.77,513.88 L30.12,515.50 M29.77,518.20 L30.02,519.83 L30.18,521.45 L30.02,523.08 L29.47,524.70 L28.71,526.33 L28.05,527.95 L27.74,529.58 L27.87,531.20 L28.28,532.83 L28.66,534.45 L28.77,536.08 L28.52,537.70 M33.32,496.00 L33.49,497.62 L33.76,499.25 L34.04,500.88 L34.24,502.50 L34.27,504.12 L34.10,505.75 L33.76,507.38 L33.32,509.00 L32.86,510.62 L32.49,512.25 L32.28,513.88 L32.27,515.50 M32.60,518.20 L32.44,519.83 L32.48,521.45 L32.80,523.08 L33.29,524.70 L33.75,526.33 L33.96,527.95 L33.84,529.58 L33.49,531.20 L33.12,532.83 L32.94,534.45 L33.03,536.08 L33.32,537.70 M38.78,496.00 L39.19,497.62 L39.70,499.25 L39.99,500.88 L39.84,502.50 L39.26,504.12 L38.54,505.75 L38.04,507.38 L38.01,509.00 L38.44,510.62 L39.06,512.25 L39.55,513.88 L39.65,515.50 M39.69,518.20 L39.95,519.83 L40.04,521.45 L39.75,523.08 L39.13,524.70 L38.42,526.33 L37.94,527.95 L37.87,529.58 L38.21,531.20 L38.71,532.83 L39.08,534.45 L39.09,536.08 L38.78,537.70 M43.58,496.00 L43.86,497.62 L43.74,499.25 L43.17,500.88 L42.40,502.50 L41.81,504.12 L41.73,505.75 L42.18,507.38 L42.94,509.00 L43.61,510.62 L43.87,512.25 L43.66,513.88 L43.20,515.50 M42.58,518.20 L42.88,519.83 L43.49,521.45 L44.07,523.08 L44.26,524.70 L43.90,526.33 L43.14,527.95 L42.37,529.58 L41.96,531.20 L42.09,532.83 L42.64,534.45 L43.26,536.08 L43.58,537.70 M49.04,496.00 L49.48,497.62 L49.93,499.25 L50.30,500.88 L50.54,502.50 L50.62,504.12 L50.56,505.75 L50.42,507.38 L50.26,509.00 L50.18,510.62 L50.23,512.25 L50.44,513.88 L50.80,515.50 M49.27,518.20 L49.17,519.83 L48.89,521.45 L48.50,523.08 L48.09,524.70 L47.78,526.33 L47.64,527.95 L47.70,529.58 L47.94,531.20 L48.30,532.83 L48.66,534.45 L48.94,536.08 L49.04,537.70 M53.84,496.00 L53.56,497.62 L53.18,499.25 L52.79,500.88 L52.47,502.50 L52.31,504.12 L52.32,505.75 L52.50,507.38 L52.78,509.00 L53.07,510.62 L53.29,512.25 L53.35,513.88 L53.24,515.50 M53.61,518.20 L53.91,519.83 L54.20,521.45 L54.41,523.08 L54.48,524.70 L54.40,526.33 L54.20,527.95 L53.93,529.58 L53.68,531.20 L53.51,532.83 L53.48,534.45 L53.60,536.08 L53.84,537.70 M59.30,496.00 L59.51,497.62 L59.47,499.25 L59.22,500.88 L58.95,502.50 L58.88,504.12 L59.12,505.75 L59.62,507.38 L60.20,509.00 L60.62,510.62 L60.77,512.25 L60.69,513.88 L60.54,515.50 M60.61,518.20 L60.85,519.83 L61.09,521.45 L61.23,523.08 L61.21,524.70 L61.01,526.33 L60.64,527.95 L60.18,529.58 L59.72,531.20 L59.36,532.83 L59.16,534.45 L59.15,536.08 L59.30,537.70 M64.10,496.00 L64.09,497.62 L63.63,499.25 L62.86,500.88 L62.15,502.50 L61.86,504.12 L62.12,505.75 L62.78,507.38 L63.47,509.00 L63.82,510.62 L63.66,512.25 L63.14,513.88 L62.58,515.50 M63.38,518.20 L63.54,519.83 L64.02,521.45 L64.57,523.08 L64.86,524.70 L64.70,526.33 L64.13,527.95 L63.43,529.58 L62.96,531.20 L62.91,532.83 L63.26,534.45 L63.77,536.08 L64.10,537.70 M69.56,496.00 L69.30,497.62 L68.99,499.25 L68.89,500.88 L69.15,502.50 L69.70,504.12 L70.32,505.75 L70.72,507.38 L70.75,509.00 L70.44,510.62 L70.02,512.25 L69.75,513.88 L69.78,515.50 M70.57,518.20 L70.05,519.83 L69.68,521.45 L69.73,523.08 L70.24,524.70 L70.96,526.33 L71.52,527.95 L71.61,529.58 L71.16,531.20 L70.41,532.83 L69.73,534.45 L69.43,536.08 L69.56,537.70 M74.36,496.00 L74.61,497.62 L74.99,499.25 L75.12,500.88 L74.75,502.50 L73.92,504.12 L72.92,505.75 L72.17,507.38 L71.92,509.00 L72.19,510.62 L72.69,512.25 L73.03,513.88 L72.95,515.50 M73.80,518.20 L74.17,519.83 L74.68,521.45 L75.00,523.08 L74.87,524.70 L74.28,526.33 L73.51,527.95 L72.93,529.58 L72.80,531.20 L73.16,532.83 L73.76,534.45 L74.25,536.08 L74.36,537.70 M79.82,496.00 L80.06,497.62 L80.04,499.25 L79.74,500.88 L79.31,502.50 L78.99,504.12 L78.98,505.75 L79.32,507.38 L79.85,509.00 L80.34,510.62 L80.56,512.25 L80.49,513.88 L80.25,515.50 M81.35,518.20 L81.05,519.83 L80.92,521.45 L80.94,523.08 L81.08,524.70 L81.27,526.33 L81.42,527.95 L81.46,529.58 L81.34,531.20 L81.06,532.83 L80.67,534.45 L80.23,536.08 L79.82,537.70 M84.62,496.00 L84.13,497.62 L83.72,499.25 L83.49,500.88 L83.44,502.50 L83.57,504.12 L83.80,505.75 L84.03,507.38 L84.17,509.00 L84.15,510.62 L83.93,512.25 L83.54,513.88 L83.05,515.50 M83.22,518.20 L83.13,519.83 L82.86,521.45 L82.68,523.08 L82.83,524.70 L83.37,526.33 L84.12,527.95 L84.82,529.58 L85.19,531.20 L85.16,532.83 L84.88,534.45 L84.62,536.08 L84.62,537.70 M90.08,496.00 L90.08,497.62 L90.29,499.25 L90.68,500.88 L91.20,502.50 L91.73,504.12 L92.19,505.75 L92.48,507.38 L92.57,509.00 L92.46,510.62 L92.24,512.25 L92.00,513.88 L91.83,515.50 M91.63,518.20 L91.23,519.83 L90.80,521.45 L90.58,523.08 L90.71,524.70 L91.11,526.33 L91.55,527.95 L91.76,529.58 L91.60,531.20 L91.13,532.83 L90.57,534.45 L90.18,536.08 L90.08,537.70 M94.88,496.00 L95.01,497.62 L94.83,499.25 L94.35,500.88 L93.77,502.50 L93.35,504.12 L93.30,505.75 L93.62,507.38 L94.13,509.00 L94.54,510.62 L94.63,512.25 L94.40,513.88 L94.01,515.50 M93.52,518.20 L93.83,519.83 L94.35,521.45 L94.80,523.08 L94.94,524.70 L94.66,526.33 L94.12,527.95 L93.60,529.58 L93.39,531.20 L93.60,532.83 L94.10,534.45 L94.61,536.08 L94.88,537.70 M100.34,496.00 L100.72,497.62 L100.99,499.25 L101.08,500.88 L100.97,502.50 L100.70,504.12 L100.34,505.75 L100.01,507.38 L99.78,509.00 L99.74,510.62 L99.89,512.25 L100.21,513.88 L100.61,515.50 M101.74,518.20 L101.62,519.83 L101.21,521.45 L100.69,523.08 L100.30,524.70 L100.23,526.33 L100.50,527.95 L100.95,529.58 L101.32,531.20 L101.39,532.83 L101.14,534.45 L100.71,536.08 L100.34,537.70 M105.14,496.00 L105.43,497.62 L105.77,499.25 L106.04,500.88 L106.16,502.50 L106.09,504.12 L105.83,505.75 L105.44,507.38 L105.01,509.00 L104.64,510.62 L104.41,512.25 L104.38,513.88 L104.54,515.50 M103.49,518.20 L103.42,519.83 L103.32,521.45 L103.27,523.08 L103.32,524.70 L103.48,526.33 L103.75,527.95 L104.10,529.58 L104.47,531.20 L104.79,532.83 L105.02,534.45 L105.14,536.08 L105.14,537.70 M110.60,496.00 L110.35,497.62 L110.09,499.25 L109.92,500.88 L109.92,502.50 L110.14,504.12 L110.55,505.75 L111.08,507.38 L111.62,509.00 L112.07,510.62 L112.35,512.25 L112.41,513.88 L112.28,515.50 M111.54,518.20 L111.49,519.83 L111.20,521.45 L110.78,523.08 L110.43,524.70 L110.32,526.33 L110.51,527.95 L110.88,529.58 L111.22,531.20 L111.35,532.83 L111.22,534.45 L110.90,536.08 L110.60,537.70 M115.40,496.00 L115.76,497.62 L116.10,499.25 L116.31,500.88 L116.31,502.50 L116.09,504.12 L115.68,505.75 L115.18,507.38 L114.71,509.00 L114.36,510.62 L114.23,512.25 L114.32,513.88 L114.59,515.50 M114.74,518.20 L114.53,519.83 L114.57,521.45 L114.94,523.08 L115.50,524.70 L116.02,526.33 L116.24,527.95 L116.08,529.58 L115.65,531.20 L115.20,532.83 L114.97,534.45 L115.07,536.08 L115.40,537.70 M120.86,496.00 L120.66,497.62 L120.77,499.25 L121.26,500.88 L121.95,502.50 L122.54,504.12 L122.74,505.75 L122.50,507.38 L121.97,509.00 L121.46,510.62 L121.25,512.25 L121.43,513.88 L121.85,515.50 M122.65,518.20 L122.36,519.83 L122.50,521.45 L122.94,523.08 L123.35,524.70 L123.41,526.33 L122.95,527.95 L122.10,529.58 L121.19,531.20 L120.57,532.83 L120.41,534.45 L120.60,536.08 L120.86,537.70 M125.66,496.00 L125.87,497.62 L125.86,499.25 L125.53,500.88 L124.94,502.50 L124.35,504.12 L124.02,505.75 L124.08,507.38 L124.45,509.00 L124.90,510.62 L125.16,512.25 L125.09,513.88 L124.77,515.50 M124.83,518.20 L125.22,519.83 L125.82,521.45 L126.24,523.08 L126.18,524.70 L125.61,526.33 L124.79,527.95 L124.11,529.58 L123.91,531.20 L124.25,532.83 L124.90,534.45 L125.47,536.08 L125.66,537.70 M131.12,496.00 L131.05,497.62 L131.28,499.25 L131.79,500.88 L132.39,502.50 L132.81,504.12 L132.86,505.75 L132.55,507.38 L132.09,509.00 L131.75,510.62 L131.73,512.25 L132.01,513.88 L132.42,515.50 M132.14,518.20 L132.43,519.83 L132.76,521.45 L132.81,523.08 L132.37,524.70 L131.57,526.33 L130.70,527.95 L130.13,529.58 L130.08,531.20 L130.45,532.83 L130.96,534.45 L131.24,536.08 L131.12,537.70 M135.92,496.00 L136.04,497.62 L135.80,499.25 L135.23,500.88 L134.58,502.50 L134.16,504.12 L134.17,505.75 L134.60,507.38 L135.19,509.00 L135.62,510.62 L135.68,512.25 L135.38,513.88 L134.93,515.50 M134.59,518.20 L134.48,519.83 L134.19,521.45 L134.00,523.08 L134.15,524.70 L134.69,526.33 L135.46,527.95 L136.17,529.58 L136.54,531.20 L136.51,532.83 L136.21,534.45 L135.93,536.08 L135.92,537.70 M141.38,496.00 L141.65,497.62 L142.20,499.25 L142.76,500.88 L143.04,502.50 L142.91,504.12 L142.43,505.75 L141.89,507.38 L141.59,509.00 L141.70,510.62 L142.16,512.25 L142.72,513.88 L143.08,515.50 M142.67,518.20 L142.84,519.83 L143.03,521.45 L142.99,523.08 L142.60,524.70 L141.96,526.33 L141.30,527.95 L140.88,529.58 L140.82,531.20 L141.07,532.83 L141.39,534.45 L141.53,536.08 L141.38,537.70 M146.18,496.00 L145.92,497.62 L145.51,499.25 L145.14,500.88 L144.97,502.50 L145.08,504.12 L145.37,505.75 L145.64,507.38 L145.73,509.00 L145.54,510.62 L145.15,512.25 L144.74,513.88 L144.50,515.50 M145.47,518.20 L145.45,519.83 L145.03,521.45 L144.49,523.08 L144.21,524.70 L144.46,526.33 L145.21,527.95 L146.16,529.58 L146.90,531.20 L147.16,532.83 L146.92,534.45 L146.47,536.08 L146.18,537.70 M151.64,496.00 L152.02,497.62 L152.49,499.25 L152.78,500.88 L152.68,502.50 L152.23,504.12 L151.67,505.75 L151.28,507.38 L151.29,509.00 L151.68,510.62 L152.25,512.25 L152.69,513.88 L152.82,515.50 M152.38,518.20 L152.53,519.83 L152.62,521.45 L152.62,523.08 L152.50,524.70 L152.29,526.33 L152.03,527.95 L151.76,529.58 L151.54,531.20 L151.42,532.83 L151.41,534.45 L151.50,536.08 L151.64,537.70 M156.44,496.00 L156.37,497.62 L155.94,499.25 L155.36,500.88 L154.98,502.50 L155.03,504.12 L155.53,505.75 L156.25,507.38 L156.83,509.00 L157.02,510.62 L156.78,512.25 L156.31,513.88 L155.95,515.50 M155.28,518.20 L155.20,519.83 L154.82,521.45 L154.44,523.08 L154.41,524.70 L154.88,526.33 L155.72,527.95 L156.61,529.58 L157.19,531.20 L157.28,532.83 L156.97,534.45 L156.58,536.08 L156.44,537.70 M161.90,496.00 L162.10,497.62 L162.44,499.25 L162.83,500.88 L163.18,502.50 L163.39,504.12 L163.42,505.75 L163.27,507.38 L162.97,509.00 L162.62,510.62 L162.32,512.25 L162.15,513.88 L162.16,515.50 M163.10,518.20 L162.96,519.83 L163.07,521.45 L163.33,523.08 L163.53,524.70 L163.48,526.33 L163.12,527.95 L162.56,529.58 L162.01,531.20 L161.67,532.83 L161.62,534.45 L161.76,536.08 L161.90,537.70 M166.70,496.00 L166.22,497.62 L165.89,499.25 L165.95,500.88 L166.44,502.50 L167.14,504.12 L167.67,505.75 L167.76,507.38 L167.35,509.00 L166.65,510.62 L166.03,512.25 L165.76,513.88 L165.90,515.50 M166.02,518.20 L166.43,519.83 L166.49,521.45 L166.10,523.08 L165.44,524.70 L164.86,526.33 L164.71,527.95 L165.09,529.58 L165.85,531.20 L166.62,532.83 L167.05,534.45 L167.03,536.08 L166.70,537.70 M172.16,496.00 L171.93,497.62 L171.70,499.25 L171.73,500.88 L172.14,502.50 L172.82,504.12 L173.50,505.75 L173.92,507.38 L173.92,509.00 L173.59,510.62 L173.20,512.25 L173.01,513.88 L173.16,515.50 M172.42,518.20 L172.80,519.83 L173.19,521.45 L173.47,523.08 L173.57,524.70 L173.45,526.33 L173.14,527.95 L172.72,529.58 L172.29,531.20 L171.96,532.83 L171.82,534.45 L171.89,536.08 L172.16,537.70 M176.96,496.00 L177.18,497.62 L177.36,499.25 L177.29,500.88 L176.94,502.50 L176.43,504.12 L175.97,505.75 L175.77,507.38 L175.89,509.00 L176.23,510.62 L176.56,512.25 L176.69,513.88 L176.56,515.50 M175.29,518.20 L175.09,519.83 L174.91,521.45 L175.01,523.08 L175.50,524.70 L176.28,526.33 L177.05,527.95 L177.51,529.58 L177.54,531.20 L177.24,532.83 L176.88,534.45 L176.74,536.08 L176.96,537.70 M182.42,497.00 L182.53,498.54 L182.78,500.08 L183.12,501.62 L183.47,503.17 L183.75,504.71 L183.90,506.25 L183.89,507.79 L183.74,509.33 L183.50,510.88 L183.25,512.42 L183.08,513.96 L183.03,515.50 M183.53,518.20 L183.56,519.87 L183.34,521.53 L182.90,523.20 L182.43,524.87 L182.13,526.53 L182.14,528.20 L182.42,529.87 L182.80,531.53 L183.05,533.20 L183.03,534.87 L182.76,536.53 L182.42,538.20 M187.22,497.00 L187.48,498.54 L187.82,500.08 L187.93,501.62 L187.62,503.17 L186.94,504.71 L186.16,506.25 L185.61,507.79 L185.50,509.33 L185.80,510.88 L186.26,512.42 L186.57,513.96 L186.51,515.50 M186.24,518.20 L186.25,519.87 L186.36,521.53 L186.58,523.20 L186.86,524.87 L187.15,526.53 L187.40,528.20 L187.56,529.87 L187.61,531.53 L187.55,533.20 L187.44,534.87 L187.31,536.53 L187.22,538.20 M192.68,497.20 L193.06,498.72 L193.14,500.25 L192.88,501.77 L192.43,503.30 L192.09,504.82 L192.10,506.35 L192.54,507.88 L193.24,509.40 L193.90,510.93 L194.28,512.45 L194.30,513.98 L194.10,515.50 M192.97,518.20 L192.98,519.88 L192.68,521.55 L192.22,523.23 L191.86,524.90 L191.82,526.58 L192.14,528.25 L192.69,529.93 L193.20,531.60 L193.43,533.28 L193.32,534.95 L192.98,536.63 L192.68,538.30 M197.48,497.20 L197.74,498.72 L197.89,500.25 L197.70,501.77 L197.18,503.30 L196.52,504.82 L195.99,506.35 L195.83,507.88 L196.07,509.40 L196.52,510.93 L196.90,512.45 L196.98,513.98 L196.75,515.50 M196.12,518.20 L196.26,519.88 L196.55,521.55 L196.95,523.23 L197.37,524.90 L197.73,526.58 L197.97,528.25 L198.05,529.93 L197.98,531.60 L197.82,533.28 L197.63,534.95 L197.49,536.63 L197.48,538.30" fill="none" stroke="#f2a09c" stroke-width="0.6"/>
<circle cx="10.4" cy="492.7" r="4.5" fill="url(#hd)"/>
<circle cx="10.4" cy="541.8" r="4.5" fill="url(#hd)"/>
<circle cx="20.7" cy="492.2" r="4.5" fill="url(#hd)"/>
<circle cx="20.7" cy="541.5" r="4.5" fill="url(#hd)"/>
<circle cx="30.9" cy="492.2" r="4.5" fill="url(#hd)"/>
<circle cx="30.9" cy="541.5" r="4.5" fill="url(#hd)"/>
<circle cx="41.2" cy="492.2" r="4.5" fill="url(#hd)"/>
<circle cx="41.2" cy="541.5" r="4.5" fill="url(#hd)"/>
<circle cx="51.4" cy="492.2" r="4.5" fill="url(#hd)"/>
<circle cx="51.4" cy="541.5" r="4.5" fill="url(#hd)"/>
<circle cx="61.7" cy="492.2" r="4.5" fill="url(#hd)"/>
<circle cx="61.7" cy="541.5" r="4.5" fill="url(#hd)"/>
<circle cx="72.0" cy="492.2" r="4.5" fill="url(#hd)"/>
<circle cx="72.0" cy="541.5" r="4.5" fill="url(#hd)"/>
<circle cx="82.2" cy="492.2" r="4.5" fill="url(#hd)"/>
<circle cx="82.2" cy="541.5" r="4.5" fill="url(#hd)"/>
<circle cx="92.5" cy="492.2" r="4.5" fill="url(#hd)"/>
<circle cx="92.5" cy="541.5" r="4.5" fill="url(#hd)"/>
<circle cx="102.7" cy="492.2" r="4.5" fill="url(#hd)"/>
<circle cx="102.7" cy="541.5" r="4.5" fill="url(#hd)"/>
<circle cx="113.0" cy="492.2" r="4.5" fill="url(#hd)"/>
<circle cx="113.0" cy="541.5" r="4.5" fill="url(#hd)"/>
<circle cx="123.3" cy="492.2" r="4.5" fill="url(#hd)"/>
<circle cx="123.3" cy="541.5" r="4.5" fill="url(#hd)"/>
<circle cx="133.5" cy="492.2" r="4.5" fill="url(#hd)"/>
<circle cx="133.5" cy="541.5" r="4.5" fill="url(#hd)"/>
<circle cx="143.8" cy="492.2" r="4.5" fill="url(#hd)"/>
<circle cx="143.8" cy="541.5" r="4.5" fill="url(#hd)"/>
<circle cx="154.0" cy="492.2" r="4.5" fill="url(#hd)"/>
<circle cx="154.0" cy="541.5" r="4.5" fill="url(#hd)"/>
<circle cx="164.3" cy="492.2" r="4.5" fill="url(#hd)"/>
<circle cx="164.3" cy="541.5" r="4.5" fill="url(#hd)"/>
<circle cx="174.6" cy="492.2" r="4.5" fill="url(#hd)"/>
<circle cx="174.6" cy="541.5" r="4.5" fill="url(#hd)"/>
<circle cx="184.8" cy="493.2" r="4.5" fill="url(#hd)"/>
<circle cx="184.8" cy="542.0" r="4.5" fill="url(#hd)"/>
<circle cx="195.1" cy="493.4" r="4.5" fill="url(#hd)"/>
<circle cx="195.1" cy="542.1" r="4.5" fill="url(#hd)"/>
<path d="M246.00,496.00 L246.13,497.62 L246.51,499.25 L246.97,500.88 L247.29,502.50 L247.31,504.12 L247.03,505.75 L246.61,507.38 L246.31,509.00 L246.27,510.62 L246.53,512.25 L246.92,513.88 L247.24,515.50 M247.77,518.20 L247.29,519.83 L246.72,521.45 L246.39,523.08 L246.50,524.70 L247.00,526.33 L247.61,527.95 L247.98,529.58 L247.89,531.20 L247.38,532.83 L246.69,534.45 L246.16,536.08 L246.00,537.70 M250.80,496.00 L250.99,497.62 L250.95,499.25 L250.58,500.88 L249.97,502.50 L249.38,504.12 L249.06,505.75 L249.13,507.38 L249.50,509.00 L249.93,510.62 L250.16,512.25 L250.06,513.88 L249.71,515.50 M249.87,518.20 L249.97,519.83 L250.16,521.45 L250.43,523.08 L250.72,524.70 L250.97,526.33 L251.13,527.95 L251.19,529.58 L251.15,531.20 L251.04,532.83 L250.90,534.45 L250.81,536.08 L250.80,537.70 M256.26,496.00 L256.50,497.62 L256.60,499.25 L256.58,500.88 L256.47,502.50 L256.31,504.12 L256.19,505.75 L256.15,507.38 L256.24,509.00 L256.47,510.62 L256.78,512.25 L257.14,513.88 L257.47,515.50 M256.79,518.20 L256.59,519.83 L256.26,521.45 L256.01,523.08 L256.00,524.70 L256.27,526.33 L256.70,527.95 L257.07,529.58 L257.20,531.20 L257.04,532.83 L256.70,534.45 L256.39,536.08 L256.26,537.70 M261.06,496.00 L260.89,497.62 L260.94,499.25 L261.13,500.88 L261.28,502.50 L261.22,504.12 L260.88,505.75 L260.36,507.38 L259.84,509.00 L259.49,510.62 L259.40,512.25 L259.48,513.88 L259.56,515.50 M260.18,518.20 L260.27,519.83 L260.61,521.45 L261.06,523.08 L261.38,524.70 L261.39,526.33 L261.10,527.95 L260.64,529.58 L260.28,531.20 L260.18,532.83 L260.39,534.45 L260.76,536.08 L261.06,537.70 M266.52,496.00 L267.03,497.62 L267.66,499.25 L268.03,500.88 L267.92,502.50 L267.36,504.12 L266.66,505.75 L266.20,507.38 L266.25,509.00 L266.78,510.62 L267.53,512.25 L268.12,513.88 L268.29,515.50 M266.99,518.20 L267.27,519.83 L267.40,521.45 L267.20,523.08 L266.69,524.70 L266.06,526.33 L265.61,527.95 L265.53,529.58 L265.83,531.20 L266.31,532.83 L266.68,534.45 L266.75,536.08 L266.52,537.70 M271.32,496.00 L271.13,497.62 L270.83,499.25 L270.60,500.88 L270.61,502.50 L270.87,504.12 L271.26,505.75 L271.59,507.38 L271.70,509.00 L271.54,510.62 L271.22,512.25 L270.93,513.88 L270.82,515.50 M270.61,518.20 L270.83,519.83 L270.71,521.45 L270.31,523.08 L269.86,524.70 L269.66,526.33 L269.86,527.95 L270.43,529.58 L271.11,531.20 L271.62,532.83 L271.77,534.45 L271.59,536.08 L271.32,537.70 M276.78,496.00 L276.61,497.62 L276.48,499.25 L276.61,500.88 L277.04,502.50 L277.65,504.12 L278.22,505.75 L278.52,507.38 L278.47,509.00 L278.19,510.62 L277.90,512.25 L277.82,513.88 L278.01,515.50 M277.29,518.20 L277.42,519.83 L277.61,521.45 L277.68,523.08 L277.53,524.70 L277.15,526.33 L276.70,527.95 L276.36,529.58 L276.25,531.20 L276.39,532.83 L276.63,534.45 L276.80,536.08 L276.78,537.70 M281.58,496.00 L281.72,497.62 L281.69,499.25 L281.49,500.88 L281.15,502.50 L280.75,504.12 L280.39,505.75 L280.13,507.38 L280.04,509.00 L280.12,510.62 L280.34,512.25 L280.62,513.88 L280.86,515.50 M280.04,518.20 L280.03,519.83 L279.81,521.45 L279.61,523.08 L279.67,524.70 L280.09,526.33 L280.77,527.95 L281.46,529.58 L281.91,531.20 L282.01,532.83 L281.83,534.45 L281.61,536.08 L281.58,537.70 M287.04,496.00 L287.27,497.62 L287.66,499.25 L288.10,500.88 L288.51,502.50 L288.78,504.12 L288.87,505.75 L288.76,507.38 L288.50,509.00 L288.18,510.62 L287.90,512.25 L287.75,513.88 L287.79,515.50 M288.27,518.20 L288.18,519.83 L287.83,521.45 L287.35,523.08 L286.96,524.70 L286.87,526.33 L287.09,527.95 L287.50,529.58 L287.85,531.20 L287.96,532.83 L287.76,534.45 L287.38,536.08 L287.04,537.70 M291.84,496.00 L291.77,497.62 L291.33,499.25 L290.75,500.88 L290.34,502.50 L290.36,504.12 L290.83,505.75 L291.53,507.38 L292.11,509.00 L292.30,510.62 L292.06,512.25 L291.58,513.88 L291.20,515.50 M290.39,518.20 L290.72,519.83 L291.17,521.45 L291.52,523.08 L291.57,524.70 L291.28,526.33 L290.83,527.95 L290.47,529.58 L290.42,531.20 L290.71,532.83 L291.20,534.45 L291.64,536.08 L291.84,537.70 M297.30,496.00 L297.08,497.62 L296.92,499.25 L297.03,500.88 L297.46,502.50 L298.10,504.12 L298.67,505.75 L298.95,507.38 L298.86,509.00 L298.52,510.62 L298.18,512.25 L298.06,513.88 L298.25,515.50 M298.51,518.20 L298.62,519.83 L298.67,521.45 L298.51,523.08 L298.13,524.70 L297.63,526.33 L297.21,527.95 L297.01,529.58 L297.08,531.20 L297.30,532.83 L297.49,534.45 L297.50,536.08 L297.30,537.70 M302.10,496.00 L301.63,497.62 L301.33,499.25 L301.47,500.88 L302.04,502.50 L302.79,504.12 L303.34,505.75 L303.39,507.38 L302.94,509.00 L302.22,510.62 L301.61,512.25 L301.39,513.88 L301.59,515.50 M301.54,518.20 L301.41,519.83 L301.15,521.45 L300.98,523.08 L301.07,524.70 L301.47,526.33 L302.03,527.95 L302.52,529.58 L302.75,531.20 L302.67,532.83 L302.39,534.45 L302.14,536.08 L302.10,537.70 M307.56,496.00 L308.01,497.62 L308.20,499.25 L307.92,500.88 L307.24,502.50 L306.48,504.12 L306.03,505.75 L306.12,507.38 L306.69,509.00 L307.45,510.62 L308.00,512.25 L308.10,513.88 L307.81,515.50 M308.25,518.20 L308.37,519.83 L308.70,521.45 L308.97,523.08 L308.92,524.70 L308.49,526.33 L307.81,527.95 L307.16,529.58 L306.80,531.20 L306.84,532.83 L307.15,534.45 L307.47,536.08 L307.56,537.70 M312.36,496.00 L312.48,497.62 L312.76,499.25 L312.96,500.88 L312.86,502.50 L312.42,504.12 L311.77,505.75 L311.18,507.38 L310.88,509.00 L310.94,510.62 L311.23,512.25 L311.50,513.88 L311.54,515.50 M311.76,518.20 L311.75,519.83 L311.91,521.45 L312.19,523.08 L312.54,524.70 L312.88,526.33 L313.12,527.95 L313.23,529.58 L313.17,531.20 L312.99,532.83 L312.74,534.45 L312.51,536.08 L312.36,537.70 M317.82,496.00 L318.20,497.62 L318.51,499.25 L318.68,500.88 L318.67,502.50 L318.50,504.12 L318.21,505.75 L317.90,507.38 L317.66,509.00 L317.55,510.62 L317.62,512.25 L317.86,513.88 L318.21,515.50 M319.16,518.20 L318.75,519.83 L318.57,521.45 L318.77,523.08 L319.22,524.70 L319.66,526.33 L319.80,527.95 L319.52,529.58 L318.90,531.20 L318.22,532.83 L317.75,534.45 L317.65,536.08 L317.82,537.70 M322.62,496.00 L322.95,497.62 L323.17,499.25 L323.21,500.88 L323.02,502.50 L322.63,504.12 L322.12,505.75 L321.59,507.38 L321.16,509.00 L320.92,510.62 L320.90,512.25 L321.09,513.88 L321.40,515.50 M321.38,518.20 L321.27,519.83 L321.51,521.45 L322.08,523.08 L322.77,524.70 L323.24,526.33 L323.29,527.95 L322.91,529.58 L322.35,531.20 L321.92,532.83 L321.85,534.45 L322.16,536.08 L322.62,537.70 M328.08,496.00 L328.12,497.62 L328.33,499.25 L328.66,500.88 L329.08,502.50 L329.51,504.12 L329.86,505.75 L330.08,507.38 L330.15,509.00 L330.07,510.62 L329.92,512.25 L329.76,513.88 L329.67,515.50 M328.67,518.20 L328.22,519.83 L328.09,521.45 L328.44,523.08 L329.15,524.70 L329.83,526.33 L330.13,527.95 L329.85,529.58 L329.12,531.20 L328.31,532.83 L327.79,534.45 L327.75,536.08 L328.08,537.70 M332.88,496.00 L332.51,497.62 L331.92,499.25 L331.44,500.88 L331.34,502.50 L331.72,504.12 L332.37,505.75 L332.95,507.38 L333.15,509.00 L332.86,510.62 L332.27,512.25 L331.69,513.88 L331.42,515.50 M331.90,518.20 L332.40,519.83 L332.91,521.45 L333.31,523.08 L333.52,524.70 L333.51,526.33 L333.29,527.95 L332.95,529.58 L332.61,531.20 L332.37,532.83 L332.32,534.45 L332.50,536.08 L332.88,537.70 M338.34,496.00 L338.11,497.62 L338.20,499.25 L338.68,500.88 L339.38,502.50 L339.98,504.12 L340.20,505.75 L339.94,507.38 L339.37,509.00 L338.82,510.62 L338.58,512.25 L338.74,513.88 L339.16,515.50 M339.10,518.20 L339.43,519.83 L339.60,521.45 L339.35,523.08 L338.70,524.70 L337.89,526.33 L337.30,527.95 L337.17,529.58 L337.51,531.20 L338.09,532.83 L338.55,534.45 L338.64,536.08 L338.34,537.70 M343.14,496.00 L343.36,497.62 L343.24,499.25 L342.67,500.88 L341.84,502.50 L341.11,504.12 L340.80,505.75 L341.02,507.38 L341.59,509.00 L342.17,510.62 L342.41,512.25 L342.20,513.88 L341.70,515.50 M342.07,518.20 L341.86,519.83 L341.77,521.45 L341.85,523.08 L342.11,524.70 L342.49,526.33 L342.93,527.95 L343.32,529.58 L343.59,531.20 L343.68,532.83 L343.61,534.45 L343.40,536.08 L343.14,537.70 M348.60,496.00 L348.42,497.62 L348.46,499.25 L348.80,500.88 L349.38,502.50 L349.96,504.12 L350.28,505.75 L350.23,507.38 L349.89,509.00 L349.49,510.62 L349.27,512.25 L349.36,513.88 L349.70,515.50 M348.81,518.20 L349.18,519.83 L349.49,521.45 L349.44,523.08 L348.94,524.70 L348.19,526.33 L347.51,527.95 L347.23,529.58 L347.43,531.20 L347.97,532.83 L348.52,534.45 L348.76,536.08 L348.60,537.70 M353.40,496.00 L353.50,497.62 L353.40,499.25 L353.09,500.88 L352.69,502.50 L352.39,504.12 L352.32,505.75 L352.52,507.38 L352.86,509.00 L353.15,510.62 L353.24,512.25 L353.10,513.88 L352.84,515.50 M352.33,518.20 L352.81,519.83 L353.02,521.45 L352.76,523.08 L352.16,524.70 L351.54,526.33 L351.25,527.95 L351.49,529.58 L352.17,531.20 L352.97,532.83 L353.52,534.45 L353.64,536.08 L353.40,537.70 M358.86,496.00 L358.50,497.62 L358.29,499.25 L358.48,500.88 L359.08,502.50 L359.86,504.12 L360.47,505.75 L360.63,507.38 L360.32,509.00 L359.74,510.62 L359.25,512.25 L359.11,513.88 L359.36,515.50 M359.19,518.20 L359.11,519.83 L358.93,521.45 L358.70,523.08 L358.46,524.70 L358.28,526.33 L358.20,527.95 L358.23,529.58 L358.35,531.20 L358.53,532.83 L358.71,534.45 L358.83,536.08 L358.86,537.70 M363.66,496.00 L363.50,497.62 L363.05,499.25 L362.52,500.88 L362.20,502.50 L362.25,504.12 L362.66,505.75 L363.21,507.38 L363.59,509.00 L363.62,510.62 L363.30,512.25 L362.83,513.88 L362.48,515.50 M361.97,518.20 L361.77,519.83 L361.88,521.45 L362.40,523.08 L363.20,524.70 L363.95,526.33 L364.34,527.95 L364.22,529.58 L363.75,531.20 L363.23,532.83 L363.00,534.45 L363.18,536.08 L363.66,537.70 M369.12,496.00 L369.02,497.62 L369.20,499.25 L369.69,500.88 L370.31,502.50 L370.80,504.12 L370.95,505.75 L370.73,507.38 L370.31,509.00 L369.95,510.62 L369.87,512.25 L370.11,513.88 L370.52,515.50 M370.60,518.20 L370.40,519.83 L370.66,521.45 L371.17,523.08 L371.58,524.70 L371.55,526.33 L370.96,527.95 L370.01,529.58 L369.09,531.20 L368.55,532.83 L368.51,534.45 L368.82,536.08 L369.12,537.70 M373.92,496.00 L374.03,497.62 L374.12,499.25 L374.02,500.88 L373.66,502.50 L373.13,504.12 L372.63,505.75 L372.33,507.38 L372.32,509.00 L372.51,510.62 L372.73,512.25 L372.79,513.88 L372.61,515.50 M373.62,518.20 L373.25,519.83 L372.89,521.45 L372.66,523.08 L372.62,524.70 L372.79,526.33 L373.13,527.95 L373.55,529.58 L373.95,531.20 L374.23,532.83 L374.32,534.45 L374.20,536.08 L373.92,537.70 M379.38,496.00 L379.75,497.62 L380.16,499.25 L380.52,500.88 L380.77,502.50 L380.87,504.12 L380.84,505.75 L380.70,507.38 L380.54,509.00 L380.43,510.62 L380.42,512.25 L380.55,513.88 L380.83,515.50 M380.39,518.20 L379.90,519.83 L379.44,521.45 L379.11,523.08 L378.96,524.70 L379.03,526.33 L379.27,527.95 L379.59,529.58 L379.88,531.20 L380.05,532.83 L380.02,534.45 L379.78,536.08 L379.38,537.70 M384.18,496.00 L384.28,497.62 L384.56,499.25 L384.79,500.88 L384.75,502.50 L384.36,504.12 L383.73,505.75 L383.13,507.38 L382.79,509.00 L382.81,510.62 L383.07,512.25 L383.35,513.88 L383.42,515.50 M382.83,518.20 L382.53,519.83 L382.43,521.45 L382.78,523.08 L383.54,524.70 L384.43,526.33 L385.06,527.95 L385.18,529.58 L384.81,531.20 L384.23,532.83 L383.81,534.45 L383.79,536.08 L384.18,537.70 M389.64,496.00 L389.46,497.62 L389.36,499.25 L389.56,500.88 L390.09,502.50 L390.81,504.12 L391.44,505.75 L391.74,507.38 L391.66,509.00 L391.33,510.62 L391.02,512.25 L390.97,513.88 L391.24,515.50 M390.28,518.20 L390.02,519.83 L389.88,521.45 L389.95,523.08 L390.23,524.70 L390.56,526.33 L390.75,527.95 L390.68,529.58 L390.37,531.20 L389.97,532.83 L389.65,534.45 L389.55,536.08 L389.64,537.70 M394.44,496.00 L394.45,497.62 L394.12,499.25 L393.57,500.88 L393.05,502.50 L392.84,504.12 L393.05,505.75 L393.56,507.38 L394.09,509.00 L394.37,510.62 L394.28,512.25 L393.90,513.88 L393.50,515.50 M393.66,518.20 L394.09,519.83 L394.46,521.45 L394.49,523.08 L394.11,524.70 L393.48,526.33 L392.93,527.95 L392.74,529.58 L393.02,531.20 L393.61,532.83 L394.20,534.45 L394.51,536.08 L394.44,537.70 M399.90,496.00 L399.91,497.62 L399.66,499.25 L399.35,500.88 L399.26,502.50 L399.52,504.12 L400.12,505.75 L400.82,507.38 L401.36,509.00 L401.54,510.62 L401.39,512.25 L401.12,513.88 L400.99,515.50 M401.34,518.20 L401.35,519.83 L401.50,521.45 L401.72,523.08 L401.91,524.70 L402.00,526.33 L401.92,527.95 L401.68,529.58 L401.29,531.20 L400.83,532.83 L400.40,534.45 L400.07,536.08 L399.90,537.70 M404.70,496.00 L404.27,497.62 L403.96,499.25 L403.83,500.88 L403.89,502.50 L404.10,504.12 L404.38,505.75 L404.64,507.38 L404.77,509.00 L404.72,510.62 L404.48,512.25 L404.09,513.88 L403.63,515.50 M404.10,518.20 L403.95,519.83 L403.49,521.45 L403.05,523.08 L402.98,524.70 L403.44,526.33 L404.29,527.95 L405.18,529.58 L405.73,531.20 L405.75,532.83 L405.36,534.45 L404.89,536.08 L404.70,537.70 M410.16,496.00 L409.96,497.62 L409.87,499.25 L410.05,500.88 L410.47,502.50 L410.97,504.12 L411.32,505.75 L411.38,507.38 L411.16,509.00 L410.79,510.62 L410.52,512.25 L410.48,513.88 L410.68,515.50 M410.42,518.20 L410.68,519.83 L410.81,521.45 L410.65,523.08 L410.21,524.70 L409.67,526.33 L409.28,527.95 L409.21,529.58 L409.49,531.20 L409.92,532.83 L410.27,534.45 L410.35,536.08 L410.16,537.70 M414.96,496.00 L415.14,497.62 L415.27,499.25 L415.31,500.88 L415.23,502.50 L415.02,504.12 L414.73,505.75 L414.42,507.38 L414.15,509.00 L413.98,510.62 L413.93,512.25 L414.00,513.88 L414.16,515.50 M414.02,518.20 L413.89,519.83 L413.73,521.45 L413.61,523.08 L413.57,524.70 L413.66,526.33 L413.86,527.95 L414.14,529.58 L414.46,531.20 L414.74,532.83 L414.93,534.45 L415.00,536.08 L414.96,537.70 M420.42,496.80 L420.32,498.36 L420.34,499.92 L420.62,501.48 L421.12,503.03 L421.68,504.59 L422.10,506.15 L422.23,507.71 L422.08,509.27 L421.83,510.82 L421.66,512.38 L421.73,513.94 L422.02,515.50 M422.08,518.20 L422.29,519.86 L422.44,521.52 L422.45,523.18 L422.29,524.83 L421.96,526.49 L421.51,528.15 L421.02,529.81 L420.60,531.47 L420.31,533.12 L420.19,534.78 L420.25,536.44 L420.42,538.10 M425.22,496.80 L424.80,498.36 L424.30,499.92 L424.01,501.48 L424.11,503.03 L424.58,504.59 L425.15,506.15 L425.51,507.71 L425.46,509.27 L425.02,510.82 L424.41,512.38 L423.94,513.94 L423.81,515.50 M424.25,518.20 L424.08,519.86 L424.31,521.52 L424.93,523.18 L425.68,524.83 L426.20,526.49 L426.23,528.15 L425.77,529.81 L425.08,531.47 L424.54,533.12 L424.42,534.78 L424.72,536.44 L425.22,538.10 M430.68,497.00 L430.82,498.54 L430.63,500.08 L430.22,501.62 L429.80,503.17 L429.64,504.71 L429.88,506.25 L430.41,507.79 L431.01,509.33 L431.41,510.88 L431.46,512.42 L431.23,513.96 L430.94,515.50 M432.43,518.20 L432.58,519.87 L432.91,521.53 L433.06,523.20 L432.78,524.87 L432.05,526.53 L431.10,528.20 L430.29,529.87 L429.93,531.53 L430.04,533.20 L430.43,534.87 L430.73,536.53 L430.68,538.20 M435.48,497.00 L435.75,498.54 L435.88,500.08 L435.71,501.62 L435.21,503.17 L434.59,504.71 L434.13,506.25 L434.03,507.79 L434.29,509.33 L434.75,510.88 L435.11,512.42 L435.19,513.96 L434.97,515.50 M433.81,518.20 L433.60,519.87 L433.78,521.53 L434.42,523.20 L435.31,524.87 L436.06,526.53 L436.35,528.20 L436.07,529.87 L435.45,531.53 L434.86,533.20 L434.65,534.87 L434.92,536.53 L435.48,538.20" fill="none" stroke="#f2a09c" stroke-width="0.6"/>
<circle cx="248.4" cy="492.2" r="4.5" fill="url(#hd)"/>
<circle cx="248.4" cy="541.5" r="4.5" fill="url(#hd)"/>
<circle cx="258.7" cy="492.2" r="4.5" fill="url(#hd)"/>
<circle cx="258.7" cy="541.5" r="4.5" fill="url(#hd)"/>
<circle cx="268.9" cy="492.2" r="4.5" fill="url(#hd)"/>
<circle cx="268.9" cy="541.5" r="4.5" fill="url(#hd)"/>
<circle cx="279.2" cy="492.2" r="4.5" fill="url(#hd)"/>
<circle cx="279.2" cy="541.5" r="4.5" fill="url(#hd)"/>
<circle cx="289.4" cy="492.2" r="4.5" fill="url(#hd)"/>
<circle cx="289.4" cy="541.5" r="4.5" fill="url(#hd)"/>
<circle cx="299.7" cy="492.2" r="4.5" fill="url(#hd)"/>
<circle cx="299.7" cy="541.5" r="4.5" fill="url(#hd)"/>
<circle cx="310.0" cy="492.2" r="4.5" fill="url(#hd)"/>
<circle cx="310.0" cy="541.5" r="4.5" fill="url(#hd)"/>
<circle cx="320.2" cy="492.2" r="4.5" fill="url(#hd)"/>
<circle cx="320.2" cy="541.5" r="4.5" fill="url(#hd)"/>
<circle cx="330.5" cy="492.2" r="4.5" fill="url(#hd)"/>
<circle cx="330.5" cy="541.5" r="4.5" fill="url(#hd)"/>
<circle cx="340.7" cy="492.2" r="4.5" fill="url(#hd)"/>
<circle cx="340.7" cy="541.5" r="4.5" fill="url(#hd)"/>
<circle cx="351.0" cy="492.2" r="4.5" fill="url(#hd)"/>
<circle cx="351.0" cy="541.5" r="4.5" fill="url(#hd)"/>
<circle cx="361.3" cy="492.2" r="4.5" fill="url(#hd)"/>
<circle cx="361.3" cy="541.5" r="4.5" fill="url(#hd)"/>
<circle cx="371.5" cy="492.2" r="4.5" fill="url(#hd)"/>
<circle cx="371.5" cy="541.5" r="4.5" fill="url(#hd)"/>
<circle cx="381.8" cy="492.2" r="4.5" fill="url(#hd)"/>
<circle cx="381.8" cy="541.5" r="4.5" fill="url(#hd)"/>
<circle cx="392.0" cy="492.2" r="4.5" fill="url(#hd)"/>
<circle cx="392.0" cy="541.5" r="4.5" fill="url(#hd)"/>
<circle cx="402.3" cy="492.2" r="4.5" fill="url(#hd)"/>
<circle cx="402.3" cy="541.5" r="4.5" fill="url(#hd)"/>
<circle cx="412.6" cy="492.2" r="4.5" fill="url(#hd)"/>
<circle cx="412.6" cy="541.5" r="4.5" fill="url(#hd)"/>
<circle cx="422.8" cy="493.0" r="4.5" fill="url(#hd)"/>
<circle cx="422.8" cy="541.9" r="4.5" fill="url(#hd)"/>
<circle cx="433.1" cy="493.2" r="4.5" fill="url(#hd)"/>
<circle cx="433.1" cy="542.0" r="4.5" fill="url(#hd)"/>
<path d="M477.70,496.00 L478.12,497.62 L478.40,499.25 L478.49,500.88 L478.38,502.50 L478.12,504.12 L477.81,505.75 L477.54,507.38 L477.42,509.00 L477.49,510.62 L477.76,512.25 L478.18,513.88 L478.65,515.50 M478.71,518.20 L478.68,519.83 L478.34,521.45 L477.83,523.08 L477.38,524.70 L477.23,526.33 L477.46,527.95 L477.93,529.58 L478.39,531.20 L478.59,532.83 L478.45,534.45 L478.07,536.08 L477.70,537.70 M482.50,496.00 L482.00,497.62 L481.41,499.25 L481.10,500.88 L481.24,502.50 L481.80,504.12 L482.45,505.75 L482.85,507.38 L482.74,509.00 L482.19,510.62 L481.47,512.25 L480.93,513.88 L480.79,515.50 M482.01,518.20 L481.73,519.83 L481.54,521.45 L481.50,523.08 L481.64,524.70 L481.92,526.33 L482.28,527.95 L482.64,529.58 L482.91,531.20 L483.03,532.83 L482.98,534.45 L482.78,536.08 L482.50,537.70 M487.96,496.00 L488.30,497.62 L488.56,499.25 L488.70,500.88 L488.72,502.50 L488.63,504.12 L488.50,505.75 L488.38,507.38 L488.34,509.00 L488.41,510.62 L488.61,512.25 L488.91,513.88 L489.27,515.50 M488.31,518.20 L488.47,519.83 L488.45,521.45 L488.23,523.08 L487.87,524.70 L487.46,526.33 L487.10,527.95 L486.87,529.58 L486.84,531.20 L487.00,532.83 L487.30,534.45 L487.66,536.08 L487.96,537.70 M492.76,496.00 L493.07,497.62 L493.40,499.25 L493.40,500.88 L492.92,502.50 L492.06,504.12 L491.17,505.75 L490.61,507.38 L490.59,509.00 L491.00,510.62 L491.52,512.25 L491.80,513.88 L491.64,515.50 M491.31,518.20 L491.00,519.83 L490.99,521.45 L491.48,523.08 L492.35,524.70 L493.25,526.33 L493.79,527.95 L493.75,529.58 L493.24,531.20 L492.59,532.83 L492.20,534.45 L492.28,536.08 L492.76,537.70 M498.22,496.00 L498.40,497.62 L498.36,499.25 L498.13,500.88 L497.86,502.50 L497.73,504.12 L497.88,505.75 L498.26,507.38 L498.74,509.00 L499.11,510.62 L499.25,512.25 L499.17,513.88 L499.02,515.50 M498.56,518.20 L498.40,519.83 L498.07,521.45 L497.78,523.08 L497.71,524.70 L497.95,526.33 L498.40,527.95 L498.85,529.58 L499.08,531.20 L499.00,532.83 L498.70,534.45 L498.37,536.08 L498.22,537.70 M503.02,496.00 L502.77,497.62 L502.63,499.25 L502.63,500.88 L502.72,502.50 L502.84,504.12 L502.94,505.75 L502.96,507.38 L502.85,509.00 L502.61,510.62 L502.28,512.25 L501.91,513.88 L501.57,515.50 M502.29,518.20 L502.16,519.83 L502.18,521.45 L502.34,523.08 L502.63,524.70 L502.98,526.33 L503.32,527.95 L503.57,529.58 L503.67,531.20 L503.63,532.83 L503.46,534.45 L503.23,536.08 L503.02,537.70 M508.48,496.00 L508.30,497.62 L507.88,499.25 L507.60,500.88 L507.78,502.50 L508.49,504.12 L509.49,505.75 L510.40,507.38 L510.85,509.00 L510.76,510.62 L510.32,512.25 L509.92,513.88 L509.88,515.50 M509.83,518.20 L509.68,519.83 L509.84,521.45 L510.16,523.08 L510.39,524.70 L510.31,526.33 L509.86,527.95 L509.17,529.58 L508.53,531.20 L508.15,532.83 L508.12,534.45 L508.31,536.08 L508.48,537.70 M513.28,496.00 L513.36,497.62 L513.34,499.25 L513.18,500.88 L512.90,502.50 L512.56,504.12 L512.21,505.75 L511.93,507.38 L511.75,509.00 L511.71,510.62 L511.78,512.25 L511.92,513.88 L512.07,515.50 M512.83,518.20 L513.26,519.83 L513.52,521.45 L513.57,523.08 L513.40,524.70 L513.06,526.33 L512.66,527.95 L512.31,529.58 L512.12,531.20 L512.15,532.83 L512.39,534.45 L512.81,536.08 L513.28,537.70 M518.74,496.00 L518.91,497.62 L519.42,499.25 L519.98,500.88 L520.25,502.50 L520.05,504.12 L519.43,505.75 L518.70,507.38 L518.22,509.00 L518.19,510.62 L518.57,512.25 L519.09,513.88 L519.43,515.50 M520.15,518.20 L520.26,519.83 L519.94,521.45 L519.24,523.08 L518.45,524.70 L517.94,526.33 L517.96,527.95 L518.46,529.58 L519.16,531.20 L519.65,532.83 L519.69,534.45 L519.29,536.08 L518.74,537.70 M523.54,496.00 L523.22,497.62 L522.94,499.25 L522.79,500.88 L522.80,502.50 L522.95,504.12 L523.21,505.75 L523.49,507.38 L523.72,509.00 L523.84,510.62 L523.79,512.25 L523.60,513.88 L523.30,515.50 M522.66,518.20 L522.94,519.83 L523.10,521.45 L523.02,523.08 L522.76,524.70 L522.45,526.33 L522.30,527.95 L522.41,529.58 L522.75,531.20 L523.18,532.83 L523.51,534.45 L523.62,536.08 L523.54,537.70 M529.00,496.00 L528.64,497.62 L528.46,499.25 L528.50,500.88 L528.77,502.50 L529.22,504.12 L529.73,505.75 L530.18,507.38 L530.46,509.00 L530.51,510.62 L530.34,512.25 L529.99,513.88 L529.57,515.50 M529.37,518.20 L529.50,519.83 L529.97,521.45 L530.45,523.08 L530.59,524.70 L530.21,526.33 L529.42,527.95 L528.55,529.58 L527.98,531.20 L527.92,532.83 L528.29,534.45 L528.76,536.08 L529.00,537.70 M533.80,496.00 L534.07,497.62 L534.14,499.25 L533.85,500.88 L533.26,502.50 L532.61,504.12 L532.20,505.75 L532.20,507.38 L532.57,509.00 L533.07,510.62 L533.42,512.25 L533.42,513.88 L533.12,515.50 M533.44,518.20 L533.22,519.83 L533.08,521.45 L533.18,523.08 L533.55,524.70 L534.04,526.33 L534.45,527.95 L534.59,529.58 L534.41,531.20 L534.06,532.83 L533.75,534.45 L533.65,536.08 L533.80,537.70 M539.26,496.00 L539.60,497.62 L540.06,499.25 L540.40,500.88 L540.43,502.50 L540.15,504.12 L539.73,505.75 L539.41,507.38 L539.40,509.00 L539.72,510.62 L540.22,512.25 L540.66,513.88 L540.85,515.50 M539.85,518.20 L539.81,519.83 L539.58,521.45 L539.19,523.08 L538.75,524.70 L538.36,526.33 L538.11,527.95 L538.05,529.58 L538.18,531.20 L538.47,532.83 L538.81,534.45 L539.10,536.08 L539.26,537.70 M544.06,496.00 L544.13,497.62 L543.80,499.25 L543.11,500.88 L542.34,502.50 L541.83,504.12 L541.82,505.75 L542.25,507.38 L542.86,509.00 L543.29,510.62 L543.29,512.25 L542.89,513.88 L542.34,515.50 M543.19,518.20 L543.22,519.83 L543.02,521.45 L542.76,523.08 L542.65,524.70 L542.84,526.33 L543.30,527.95 L543.87,529.58 L544.32,531.20 L544.49,532.83 L544.40,534.45 L544.18,536.08 L544.06,537.70 M549.52,496.00 L549.70,497.62 L550.22,499.25 L550.82,500.88 L551.18,502.50 L551.08,504.12 L550.55,505.75 L549.88,507.38 L549.40,509.00 L549.36,510.62 L549.73,512.25 L550.27,513.88 L550.66,515.50 M550.87,518.20 L550.41,519.83 L549.99,521.45 L549.69,523.08 L549.56,524.70 L549.61,526.33 L549.79,527.95 L550.03,529.58 L550.23,531.20 L550.30,532.83 L550.20,534.45 L549.93,536.08 L549.52,537.70 M554.32,496.00 L554.18,497.62 L553.69,499.25 L553.14,500.88 L552.89,502.50 L553.14,504.12 L553.83,505.75 L554.64,507.38 L555.20,509.00 L555.27,510.62 L554.91,512.25 L554.40,513.88 L554.09,515.50 M553.93,518.20 L553.77,519.83 L554.06,521.45 L554.71,523.08 L555.39,524.70 L555.74,526.33 L555.53,527.95 L554.87,529.58 L554.07,531.20 L553.54,532.83 L553.48,534.45 L553.85,536.08 L554.32,537.70 M559.78,496.00 L559.98,497.62 L559.93,499.25 L559.70,500.88 L559.45,502.50 L559.40,504.12 L559.66,505.75 L560.15,507.38 L560.71,509.00 L561.11,510.62 L561.25,512.25 L561.16,513.88 L561.03,515.50 M560.27,518.20 L559.97,519.83 L560.01,521.45 L560.42,523.08 L561.00,524.70 L561.41,526.33 L561.40,527.95 L560.95,529.58 L560.25,531.20 L559.63,532.83 L559.35,534.45 L559.46,536.08 L559.78,537.70 M564.58,496.00 L564.80,497.62 L565.02,499.25 L565.17,500.88 L565.22,502.50 L565.13,504.12 L564.93,505.75 L564.67,507.38 L564.41,509.00 L564.22,510.62 L564.13,512.25 L564.17,513.88 L564.33,515.50 M563.12,518.20 L563.39,519.83 L563.77,521.45 L564.19,523.08 L564.57,524.70 L564.84,526.33 L564.96,527.95 L564.93,529.58 L564.79,531.20 L564.62,532.83 L564.48,534.45 L564.46,536.08 L564.58,537.70 M570.04,496.00 L569.98,497.62 L569.85,499.25 L569.81,500.88 L570.00,502.50 L570.43,504.12 L570.96,505.75 L571.39,507.38 L571.60,509.00 L571.55,510.62 L571.38,512.25 L571.25,513.88 L571.32,515.50 M570.48,518.20 L570.04,519.83 L569.86,521.45 L570.13,523.08 L570.78,524.70 L571.48,526.33 L571.88,527.95 L571.74,529.58 L571.14,531.20 L570.39,532.83 L569.86,534.45 L569.76,536.08 L570.04,537.70 M574.84,496.00 L574.65,497.62 L574.64,499.25 L574.80,500.88 L575.03,502.50 L575.25,504.12 L575.37,505.75 L575.31,507.38 L575.07,509.00 L574.67,510.62 L574.19,512.25 L573.72,513.88 L573.36,515.50 M573.44,518.20 L573.28,519.83 L573.16,521.45 L573.16,523.08 L573.31,524.70 L573.60,526.33 L573.98,527.95 L574.38,529.58 L574.73,531.20 L574.96,532.83 L575.04,534.45 L574.99,536.08 L574.84,537.70 M580.30,496.00 L580.07,497.62 L580.08,499.25 L580.41,500.88 L580.96,502.50 L581.49,504.12 L581.75,505.75 L581.61,507.38 L581.19,509.00 L580.72,510.62 L580.46,512.25 L580.52,513.88 L580.83,515.50 M581.71,518.20 L581.96,519.83 L581.95,521.45 L581.51,523.08 L580.75,524.70 L579.96,526.33 L579.49,527.95 L579.52,529.58 L579.95,531.20 L580.50,532.83 L580.82,534.45 L580.73,536.08 L580.30,537.70 M585.10,496.00 L585.15,497.62 L585.39,499.25 L585.75,500.88 L586.11,502.50 L586.36,504.12 L586.44,505.75 L586.29,507.38 L585.96,509.00 L585.51,510.62 L585.05,512.25 L584.70,513.88 L584.53,515.50 M584.84,518.20 L584.80,519.83 L584.57,521.45 L584.30,523.08 L584.19,524.70 L584.36,526.33 L584.76,527.95 L585.23,529.58 L585.56,531.20 L585.64,532.83 L585.48,534.45 L585.24,536.08 L585.10,537.70 M590.56,496.00 L590.22,497.62 L589.94,499.25 L589.82,500.88 L589.89,502.50 L590.15,504.12 L590.54,505.75 L590.97,507.38 L591.34,509.00 L591.56,510.62 L591.58,512.25 L591.41,513.88 L591.10,515.50 M592.28,518.20 L592.13,519.83 L592.28,521.45 L592.59,523.08 L592.78,524.70 L592.62,526.33 L592.08,527.95 L591.32,529.58 L590.63,531.20 L590.25,532.83 L590.23,534.45 L590.42,536.08 L590.56,537.70 M595.36,496.00 L595.29,497.62 L595.44,499.25 L595.71,500.88 L595.90,502.50 L595.86,504.12 L595.53,505.75 L595.04,507.38 L594.59,509.00 L594.35,510.62 L594.37,512.25 L594.55,513.88 L594.70,515.50 M594.87,518.20 L594.53,519.83 L594.13,521.45 L593.77,523.08 L593.56,524.70 L593.58,526.33 L593.82,527.95 L594.24,529.58 L594.73,531.20 L595.17,532.83 L595.45,534.45 L595.52,536.08 L595.36,537.70 M600.82,496.00 L600.74,497.62 L600.54,499.25 L600.40,500.88 L600.46,502.50 L600.76,504.12 L601.21,505.75 L601.63,507.38 L601.85,509.00 L601.82,510.62 L601.62,512.25 L601.43,513.88 L601.39,515.50 M602.62,518.20 L602.26,519.83 L602.10,521.45 L602.14,523.08 L602.33,524.70 L602.57,526.33 L602.77,527.95 L602.82,529.58 L602.68,531.20 L602.34,532.83 L601.86,534.45 L601.32,536.08 L600.82,537.70 M605.62,496.00 L605.29,497.62 L604.83,499.25 L604.36,500.88 L603.99,502.50 L603.82,504.12 L603.89,505.75 L604.18,507.38 L604.59,509.00 L605.02,510.62 L605.35,512.25 L605.47,513.88 L605.35,515.50 M604.79,518.20 L604.64,519.83 L604.76,521.45 L605.19,523.08 L605.76,524.70 L606.21,526.33 L606.34,527.95 L606.09,529.58 L605.63,531.20 L605.22,532.83 L605.08,534.45 L605.26,536.08 L605.62,537.70 M611.08,496.00 L611.42,497.62 L611.45,499.25 L611.15,500.88 L610.72,502.50 L610.44,504.12 L610.54,505.75 L611.04,507.38 L611.75,509.00 L612.38,510.62 L612.70,512.25 L612.67,513.88 L612.46,515.50 M612.52,518.20 L612.32,519.83 L612.33,521.45 L612.51,523.08 L612.79,524.70 L613.05,526.33 L613.20,527.95 L613.16,529.58 L612.91,531.20 L612.49,532.83 L611.97,534.45 L611.47,536.08 L611.08,537.70 M615.88,496.00 L616.00,497.62 L615.88,499.25 L615.54,500.88 L615.12,502.50 L614.84,504.12 L614.85,505.75 L615.14,507.38 L615.56,509.00 L615.89,510.62 L615.98,512.25 L615.82,513.88 L615.55,515.50 M614.64,518.20 L614.50,519.83 L614.57,521.45 L614.93,523.08 L615.49,524.70 L616.03,526.33 L616.32,527.95 L616.27,529.58 L615.96,531.20 L615.60,532.83 L615.43,534.45 L615.54,536.08 L615.88,537.70 M621.34,496.00 L621.15,497.62 L620.93,499.25 L620.76,500.88 L620.72,502.50 L620.83,504.12 L621.09,505.75 L621.45,507.38 L621.83,509.00 L622.16,510.62 L622.37,512.25 L622.42,513.88 L622.32,515.50 M622.40,518.20 L622.63,519.83 L622.45,521.45 L621.83,523.08 L621.02,524.70 L620.39,526.33 L620.24,527.95 L620.63,529.58 L621.31,531.20 L621.91,532.83 L622.11,534.45 L621.85,536.08 L621.34,537.70 M626.14,496.00 L626.40,497.62 L626.29,499.25 L625.74,500.88 L624.97,502.50 L624.34,504.12 L624.16,505.75 L624.50,507.38 L625.17,509.00 L625.79,510.62 L626.05,512.25 L625.85,513.88 L625.39,515.50 M625.26,518.20 L625.08,519.83 L624.92,521.45 L624.95,523.08 L625.28,524.70 L625.82,526.33 L626.36,527.95 L626.68,529.58 L626.69,531.20 L626.44,532.83 L626.15,534.45 L626.01,536.08 L626.14,537.70 M631.60,496.00 L631.32,497.62 L631.00,499.25 L630.74,500.88 L630.64,502.50 L630.74,504.12 L631.03,505.75 L631.47,507.38 L631.94,509.00 L632.36,510.62 L632.62,512.25 L632.68,513.88 L632.55,515.50 M632.98,518.20 L633.31,519.83 L633.46,521.45 L633.16,523.08 L632.40,524.70 L631.45,526.33 L630.73,527.95 L630.51,529.58 L630.83,531.20 L631.42,532.83 L631.90,534.45 L631.97,536.08 L631.60,537.70 M636.40,496.00 L636.64,497.62 L636.96,499.25 L637.26,500.88 L637.47,502.50 L637.51,504.12 L637.38,505.75 L637.09,507.38 L636.73,509.00 L636.38,510.62 L636.13,512.25 L636.04,513.88 L636.14,515.50 M635.02,518.20 L635.12,519.83 L634.85,521.45 L634.41,523.08 L634.16,524.70 L634.35,526.33 L635.01,527.95 L635.89,529.58 L636.65,531.20 L637.01,532.83 L636.93,534.45 L636.62,536.08 L636.40,537.70 M641.86,496.00 L642.28,497.62 L642.76,499.25 L643.02,500.88 L642.88,502.50 L642.41,504.12 L641.87,505.75 L641.55,507.38 L641.64,509.00 L642.11,510.62 L642.71,512.25 L643.15,513.88 L643.26,515.50 M642.36,518.20 L642.09,519.83 L641.98,521.45 L642.07,523.08 L642.30,524.70 L642.62,526.33 L642.92,527.95 L643.11,529.58 L643.13,531.20 L642.96,532.83 L642.64,534.45 L642.24,536.08 L641.86,537.70 M646.66,496.00 L646.87,497.62 L646.96,499.25 L646.70,500.88 L646.07,502.50 L645.27,504.12 L644.61,505.75 L644.35,507.38 L644.52,509.00 L644.92,510.62 L645.26,512.25 L645.28,513.88 L644.96,515.50 M646.09,518.20 L646.21,519.83 L646.49,521.45 L646.80,523.08 L646.94,524.70 L646.84,526.33 L646.53,527.95 L646.17,529.58 L645.94,531.20 L645.95,532.83 L646.18,534.45 L646.48,536.08 L646.66,537.70 M652.12,496.80 L651.84,498.36 L651.76,499.92 L652.12,501.48 L652.86,503.03 L653.72,504.59 L654.33,506.15 L654.45,507.71 L654.10,509.27 L653.54,510.82 L653.15,512.38 L653.15,513.94 L653.54,515.50 M652.56,518.20 L652.91,519.86 L652.89,521.52 L652.37,523.18 L651.55,524.83 L650.82,526.49 L650.55,528.15 L650.86,529.81 L651.58,531.47 L652.32,533.12 L652.70,534.78 L652.57,536.44 L652.12,538.10 M656.92,496.80 L656.44,498.36 L656.02,499.92 L655.74,501.48 L655.65,503.03 L655.76,504.59 L656.00,506.15 L656.30,507.71 L656.54,509.27 L656.63,510.82 L656.53,512.38 L656.24,513.94 L655.81,515.50 M655.79,518.20 L655.43,519.86 L655.18,521.52 L655.38,523.18 L656.07,524.83 L657.02,526.49 L657.83,528.15 L658.15,529.81 L657.92,531.47 L657.33,533.12 L656.79,534.78 L656.62,536.44 L656.92,538.10 M662.38,497.30 L662.33,498.82 L662.57,500.33 L663.01,501.85 L663.45,503.37 L663.66,504.88 L663.53,506.40 L663.13,507.92 L662.68,509.43 L662.40,510.95 L662.43,512.47 L662.70,513.98 L663.03,515.50 M663.24,518.20 L663.37,519.88 L663.60,521.56 L663.86,523.24 L664.06,524.92 L664.12,526.60 L664.01,528.28 L663.74,529.95 L663.36,531.63 L662.96,533.31 L662.62,534.99 L662.41,536.67 L662.38,538.35 M667.18,497.30 L666.88,498.82 L666.43,500.33 L666.07,501.85 L666.01,503.37 L666.31,504.88 L666.79,506.40 L667.21,507.92 L667.33,509.43 L667.09,510.95 L666.62,512.47 L666.18,513.98 L665.98,515.50 M665.80,518.20 L665.91,519.88 L666.19,521.56 L666.60,523.24 L667.06,524.92 L667.47,526.60 L667.76,528.28 L667.87,529.95 L667.82,531.63 L667.65,533.31 L667.42,534.99 L667.24,536.67 L667.18,538.35" fill="none" stroke="#f2a09c" stroke-width="0.6"/>
<circle cx="480.1" cy="492.2" r="4.5" fill="url(#hd)"/>
<circle cx="480.1" cy="541.5" r="4.5" fill="url(#hd)"/>
<circle cx="490.4" cy="492.2" r="4.5" fill="url(#hd)"/>
<circle cx="490.4" cy="541.5" r="4.5" fill="url(#hd)"/>
<circle cx="500.6" cy="492.2" r="4.5" fill="url(#hd)"/>
<circle cx="500.6" cy="541.5" r="4.5" fill="url(#hd)"/>
<circle cx="510.9" cy="492.2" r="4.5" fill="url(#hd)"/>
<circle cx="510.9" cy="541.5" r="4.5" fill="url(#hd)"/>
<circle cx="521.1" cy="492.2" r="4.5" fill="url(#hd)"/>
<circle cx="521.1" cy="541.5" r="4.5" fill="url(#hd)"/>
<circle cx="531.4" cy="492.2" r="4.5" fill="url(#hd)"/>
<circle cx="531.4" cy="541.5" r="4.5" fill="url(#hd)"/>
<circle cx="541.7" cy="492.2" r="4.5" fill="url(#hd)"/>
<circle cx="541.7" cy="541.5" r="4.5" fill="url(#hd)"/>
<circle cx="551.9" cy="492.2" r="4.5" fill="url(#hd)"/>
<circle cx="551.9" cy="541.5" r="4.5" fill="url(#hd)"/>
<circle cx="562.2" cy="492.2" r="4.5" fill="url(#hd)"/>
<circle cx="562.2" cy="541.5" r="4.5" fill="url(#hd)"/>
<circle cx="572.4" cy="492.2" r="4.5" fill="url(#hd)"/>
<circle cx="572.4" cy="541.5" r="4.5" fill="url(#hd)"/>
<circle cx="582.7" cy="492.2" r="4.5" fill="url(#hd)"/>
<circle cx="582.7" cy="541.5" r="4.5" fill="url(#hd)"/>
<circle cx="593.0" cy="492.2" r="4.5" fill="url(#hd)"/>
<circle cx="593.0" cy="541.5" r="4.5" fill="url(#hd)"/>
<circle cx="603.2" cy="492.2" r="4.5" fill="url(#hd)"/>
<circle cx="603.2" cy="541.5" r="4.5" fill="url(#hd)"/>
<circle cx="613.5" cy="492.2" r="4.5" fill="url(#hd)"/>
<circle cx="613.5" cy="541.5" r="4.5" fill="url(#hd)"/>
<circle cx="623.7" cy="492.2" r="4.5" fill="url(#hd)"/>
<circle cx="623.7" cy="541.5" r="4.5" fill="url(#hd)"/>
<circle cx="634.0" cy="492.2" r="4.5" fill="url(#hd)"/>
<circle cx="634.0" cy="541.5" r="4.5" fill="url(#hd)"/>
<circle cx="644.3" cy="492.2" r="4.5" fill="url(#hd)"/>
<circle cx="644.3" cy="541.5" r="4.5" fill="url(#hd)"/>
<circle cx="654.5" cy="493.0" r="4.5" fill="url(#hd)"/>
<circle cx="654.5" cy="541.9" r="4.5" fill="url(#hd)"/>
<circle cx="664.8" cy="493.5" r="4.5" fill="url(#hd)"/>
<circle cx="664.8" cy="542.1" r="4.5" fill="url(#hd)"/>
<rect x="27.2" y="442.7" width="150.6" height="33.4" fill="#1cfbfb"/>
<rect x="265.2" y="442.8" width="150.8" height="33.2" fill="#1cfbfb"/>
<rect x="496.9" y="443.3" width="150.6" height="33.4" fill="#1cfbfb"/>
<g font-size="10.4" font-family="Liberation Sans, sans-serif" fill="#26f4f4" stroke="#26f4f4" stroke-width="0.25" style="font-kerning:none"><text x="11" y="464.7">Te</text><text x="246.5" y="463.6">Te</text><text x="478.4" y="464.9">Te</text></g>
<text x="11" y="440" font-size="10.2" font-family="Liberation Sans, sans-serif" fill="#111" stroke="#111" stroke-width="0.15">Light off</text>
<text x="246.1" y="440.2" font-size="10.2" font-family="Liberation Sans, sans-serif" fill="#f02020" stroke="#f02020" stroke-width="0.15">Light on</text>
<text x="477.8" y="440.4" font-size="10.2" font-family="Liberation Sans, sans-serif" fill="#f02020" stroke="#f02020" stroke-width="0.15">Light on</text>
<circle cx="41.5" cy="483.3" r="4.3" fill="#9b2ff8"/><path d="M39.0,483.3 H44.0 M41.5,480.8 V485.8" stroke="#fff" stroke-width="1.1"/>
<circle cx="55.8" cy="483.3" r="4.3" fill="#9b2ff8"/><path d="M53.3,483.3 H58.3 M55.8,480.8 V485.8" stroke="#fff" stroke-width="1.1"/>
<circle cx="71.1" cy="483.3" r="4.3" fill="#9b2ff8"/><path d="M68.6,483.3 H73.6 M71.1,480.8 V485.8" stroke="#fff" stroke-width="1.1"/>
<circle cx="84.2" cy="483.3" r="4.3" fill="#9b2ff8"/><path d="M81.7,483.3 H86.7 M84.2,480.8 V485.8" stroke="#fff" stroke-width="1.1"/>
<circle cx="96.1" cy="483.3" r="4.3" fill="#9b2ff8"/><path d="M93.6,483.3 H98.6 M96.1,480.8 V485.8" stroke="#fff" stroke-width="1.1"/>
<circle cx="109.8" cy="483.3" r="4.3" fill="#9b2ff8"/><path d="M107.3,483.3 H112.3 M109.8,480.8 V485.8" stroke="#fff" stroke-width="1.1"/>
<circle cx="123.4" cy="483.3" r="4.3" fill="#9b2ff8"/><path d="M120.9,483.3 H125.9 M123.4,480.8 V485.8" stroke="#fff" stroke-width="1.1"/>
<circle cx="135.7" cy="483.3" r="4.3" fill="#9b2ff8"/><path d="M133.2,483.3 H138.2 M135.7,480.8 V485.8" stroke="#fff" stroke-width="1.1"/>
<circle cx="150.2" cy="483.3" r="4.3" fill="#9b2ff8"/><path d="M147.7,483.3 H152.7 M150.2,480.8 V485.8" stroke="#fff" stroke-width="1.1"/>
<circle cx="164.9" cy="483.3" r="4.3" fill="#9b2ff8"/><path d="M162.4,483.3 H167.4 M164.9,480.8 V485.8" stroke="#fff" stroke-width="1.1"/>
<circle cx="41.0" cy="553.2" r="4.3" fill="#7a7a7a"/><path d="M38.4,553.2 H43.6" stroke="#fff" stroke-width="1.2"/>
<circle cx="54.9" cy="553.2" r="4.3" fill="#7a7a7a"/><path d="M52.3,553.2 H57.5" stroke="#fff" stroke-width="1.2"/>
<circle cx="69.9" cy="553.2" r="4.3" fill="#7a7a7a"/><path d="M67.3,553.2 H72.5" stroke="#fff" stroke-width="1.2"/>
<circle cx="83.5" cy="553.2" r="4.3" fill="#7a7a7a"/><path d="M80.9,553.2 H86.1" stroke="#fff" stroke-width="1.2"/>
<circle cx="95.7" cy="553.2" r="4.3" fill="#7a7a7a"/><path d="M93.1,553.2 H98.3" stroke="#fff" stroke-width="1.2"/>
<circle cx="108.2" cy="553.2" r="4.3" fill="#7a7a7a"/><path d="M105.6,553.2 H110.8" stroke="#fff" stroke-width="1.2"/>
<circle cx="121.7" cy="553.2" r="4.3" fill="#7a7a7a"/><path d="M119.1,553.2 H124.3" stroke="#fff" stroke-width="1.2"/>
<circle cx="134.3" cy="553.2" r="4.3" fill="#7a7a7a"/><path d="M131.7,553.2 H136.9" stroke="#fff" stroke-width="1.2"/>
<circle cx="148.6" cy="553.2" r="4.3" fill="#7a7a7a"/><path d="M146.0,553.2 H151.2" stroke="#fff" stroke-width="1.2"/>
<circle cx="163.5" cy="553.2" r="4.3" fill="#7a7a7a"/><path d="M160.9,553.2 H166.1" stroke="#fff" stroke-width="1.2"/>
<circle cx="279.7" cy="483.2" r="3.9" fill="#9b2ff8"/><path d="M277.2,483.2 H282.2 M279.7,480.7 V485.7" stroke="#fff" stroke-width="1.1"/>
<circle cx="293.9" cy="483.2" r="3.9" fill="#9b2ff8"/><path d="M291.4,483.2 H296.4 M293.9,480.7 V485.7" stroke="#fff" stroke-width="1.1"/>
<circle cx="308.7" cy="483.2" r="3.9" fill="#9b2ff8"/><path d="M306.2,483.2 H311.2 M308.7,480.7 V485.7" stroke="#fff" stroke-width="1.1"/>
<circle cx="322.5" cy="483.2" r="3.9" fill="#9b2ff8"/><path d="M320.0,483.2 H325.0 M322.5,480.7 V485.7" stroke="#fff" stroke-width="1.1"/>
<circle cx="335.2" cy="483.2" r="3.9" fill="#9b2ff8"/><path d="M332.7,483.2 H337.7 M335.2,480.7 V485.7" stroke="#fff" stroke-width="1.1"/>
<circle cx="347.7" cy="483.2" r="3.9" fill="#9b2ff8"/><path d="M345.2,483.2 H350.2 M347.7,480.7 V485.7" stroke="#fff" stroke-width="1.1"/>
<circle cx="361.1" cy="483.2" r="3.9" fill="#9b2ff8"/><path d="M358.6,483.2 H363.6 M361.1,480.7 V485.7" stroke="#fff" stroke-width="1.1"/>
<circle cx="373.6" cy="483.2" r="3.9" fill="#9b2ff8"/><path d="M371.1,483.2 H376.1 M373.6,480.7 V485.7" stroke="#fff" stroke-width="1.1"/>
<circle cx="387.9" cy="483.2" r="3.9" fill="#9b2ff8"/><path d="M385.4,483.2 H390.4 M387.9,480.7 V485.7" stroke="#fff" stroke-width="1.1"/>
<circle cx="402.6" cy="483.2" r="3.9" fill="#9b2ff8"/><path d="M400.1,483.2 H405.1 M402.6,480.7 V485.7" stroke="#fff" stroke-width="1.1"/>
<circle cx="278.8" cy="553.0" r="4.3" fill="#7a7a7a"/><path d="M276.2,553.0 H281.4" stroke="#fff" stroke-width="1.2"/>
<circle cx="292.6" cy="553.0" r="4.3" fill="#7a7a7a"/><path d="M290.0,553.0 H295.2" stroke="#fff" stroke-width="1.2"/>
<circle cx="307.2" cy="553.0" r="4.3" fill="#7a7a7a"/><path d="M304.6,553.0 H309.8" stroke="#fff" stroke-width="1.2"/>
<circle cx="320.3" cy="553.0" r="4.3" fill="#7a7a7a"/><path d="M317.7,553.0 H322.9" stroke="#fff" stroke-width="1.2"/>
<circle cx="332.8" cy="553.0" r="4.3" fill="#7a7a7a"/><path d="M330.2,553.0 H335.4" stroke="#fff" stroke-width="1.2"/>
<circle cx="345.7" cy="553.0" r="4.3" fill="#7a7a7a"/><path d="M343.1,553.0 H348.3" stroke="#fff" stroke-width="1.2"/>
<circle cx="359.7" cy="553.0" r="4.3" fill="#7a7a7a"/><path d="M357.1,553.0 H362.3" stroke="#fff" stroke-width="1.2"/>
<circle cx="372.3" cy="553.0" r="4.3" fill="#7a7a7a"/><path d="M369.7,553.0 H374.9" stroke="#fff" stroke-width="1.2"/>
<circle cx="386.0" cy="553.0" r="4.3" fill="#7a7a7a"/><path d="M383.4,553.0 H388.6" stroke="#fff" stroke-width="1.2"/>
<circle cx="401.2" cy="553.0" r="4.3" fill="#7a7a7a"/><path d="M398.6,553.0 H403.8" stroke="#fff" stroke-width="1.2"/>
<circle cx="511.1" cy="483.9" r="4.3" fill="#9b2ff8"/><path d="M508.6,483.9 H513.6 M511.1,481.4 V486.4" stroke="#fff" stroke-width="1.1"/>
<circle cx="559.9" cy="483.9" r="4.3" fill="#9b2ff8"/><path d="M557.4,483.9 H562.4 M559.9,481.4 V486.4" stroke="#fff" stroke-width="1.1"/>
<circle cx="598.9" cy="483.9" r="4.3" fill="#9b2ff8"/><path d="M596.4,483.9 H601.4 M598.9,481.4 V486.4" stroke="#fff" stroke-width="1.1"/>
<circle cx="633.8" cy="483.9" r="4.3" fill="#9b2ff8"/><path d="M631.3,483.9 H636.3 M633.8,481.4 V486.4" stroke="#fff" stroke-width="1.1"/>
<circle cx="510.5" cy="554.2" r="4.3" fill="#7a7a7a"/><path d="M507.9,554.2 H513.1" stroke="#fff" stroke-width="1.2"/>
<circle cx="523.9" cy="554.2" r="4.3" fill="#7a7a7a"/><path d="M521.3,554.2 H526.5" stroke="#fff" stroke-width="1.2"/>
<circle cx="538.7" cy="554.2" r="4.3" fill="#7a7a7a"/><path d="M536.1,554.2 H541.3" stroke="#fff" stroke-width="1.2"/>
<circle cx="552.1" cy="554.2" r="4.3" fill="#7a7a7a"/><path d="M549.5,554.2 H554.7" stroke="#fff" stroke-width="1.2"/>
<circle cx="564.7" cy="554.2" r="4.3" fill="#7a7a7a"/><path d="M562.1,554.2 H567.3" stroke="#fff" stroke-width="1.2"/>
<circle cx="577.5" cy="554.2" r="4.3" fill="#7a7a7a"/><path d="M574.9,554.2 H580.1" stroke="#fff" stroke-width="1.2"/>
<circle cx="590.6" cy="554.2" r="4.3" fill="#7a7a7a"/><path d="M588.0,554.2 H593.2" stroke="#fff" stroke-width="1.2"/>
<circle cx="604.0" cy="554.2" r="4.3" fill="#7a7a7a"/><path d="M601.4,554.2 H606.6" stroke="#fff" stroke-width="1.2"/>
<circle cx="618.2" cy="554.2" r="4.3" fill="#7a7a7a"/><path d="M615.6,554.2 H620.8" stroke="#fff" stroke-width="1.2"/>
<circle cx="632.4" cy="554.2" r="4.3" fill="#7a7a7a"/><path d="M629.8,554.2 H635.0" stroke="#fff" stroke-width="1.2"/>
<polyline fill="none" stroke="#f01818" stroke-width="1.15" stroke-linejoin="round" points="319.10,408.50 319.04,408.86 318.87,409.22 318.58,409.57 318.21,409.93 317.75,410.29 317.23,410.65 316.68,411.01 316.12,411.37 315.57,411.73 315.05,412.08 314.59,412.44 314.22,412.80 313.93,413.16 313.76,413.52 313.70,413.88 313.76,414.23 313.93,414.59 314.22,414.95 314.59,415.31 315.05,415.67 315.57,416.02 316.12,416.38 316.68,416.74 317.23,417.10 317.75,417.46 318.21,417.82 318.58,418.18 318.87,418.53 319.04,418.89 319.10,419.25 319.04,419.61 318.87,419.97 318.58,420.32 318.21,420.68 317.75,421.04 317.23,421.40 316.68,421.76 316.12,422.12 315.57,422.48 315.05,422.83 314.59,423.19 314.22,423.55 313.93,423.91 313.76,424.27 313.70,424.62 313.76,424.98 313.93,425.34 314.22,425.70 314.59,426.06 315.05,426.42 315.57,426.77 316.12,427.13 316.68,427.49 317.23,427.85 317.75,428.21 318.21,428.57 318.58,428.93 318.87,429.28 319.04,429.64 319.10,430.00 318.00,431.80 316.60,433.70 315.60,434.50 315.40,437.50"/>
<path d="M313.6,436.8 L315.4,441.0 L317.2,436.8 Z" fill="#f01818"/>
<polyline fill="none" stroke="#f01818" stroke-width="1.15" stroke-linejoin="round" points="325.60,408.70 325.54,409.06 325.37,409.42 325.08,409.77 324.71,410.13 324.25,410.49 323.73,410.85 323.18,411.21 322.62,411.57 322.07,411.93 321.55,412.28 321.09,412.64 320.72,413.00 320.43,413.36 320.26,413.72 320.20,414.07 320.26,414.43 320.43,414.79 320.72,415.15 321.09,415.51 321.55,415.87 322.07,416.22 322.62,416.58 323.18,416.94 323.73,417.30 324.25,417.66 324.71,418.02 325.08,418.38 325.37,418.73 325.54,419.09 325.60,419.45 325.54,419.81 325.37,420.17 325.08,420.52 324.71,420.88 324.25,421.24 323.73,421.60 323.18,421.96 322.62,422.32 322.07,422.68 321.55,423.03 321.09,423.39 320.72,423.75 320.43,424.11 320.26,424.47 320.20,424.82 320.26,425.18 320.43,425.54 320.72,425.90 321.09,426.26 321.55,426.62 322.07,426.97 322.62,427.33 323.18,427.69 323.73,428.05 324.25,428.41 324.71,428.77 325.08,429.12 325.37,429.48 325.54,429.84 325.60,430.20 324.50,432.00 323.10,433.90 322.10,434.50 321.90,437.50"/>
<path d="M320.1,436.8 L321.9,441.0 L323.7,436.8 Z" fill="#f01818"/>
<polyline fill="none" stroke="#f01818" stroke-width="1.15" stroke-linejoin="round" points="332.20,408.90 332.14,409.26 331.97,409.62 331.68,409.97 331.31,410.33 330.85,410.69 330.33,411.05 329.78,411.41 329.22,411.77 328.67,412.12 328.15,412.48 327.69,412.84 327.32,413.20 327.03,413.56 326.86,413.92 326.80,414.27 326.86,414.63 327.03,414.99 327.32,415.35 327.69,415.71 328.15,416.07 328.67,416.42 329.22,416.78 329.78,417.14 330.33,417.50 330.85,417.86 331.31,418.22 331.68,418.57 331.97,418.93 332.14,419.29 332.20,419.65 332.14,420.01 331.97,420.37 331.68,420.72 331.31,421.08 330.85,421.44 330.33,421.80 329.78,422.16 329.22,422.52 328.67,422.88 328.15,423.23 327.69,423.59 327.32,423.95 327.03,424.31 326.86,424.67 326.80,425.02 326.86,425.38 327.03,425.74 327.32,426.10 327.69,426.46 328.15,426.82 328.67,427.17 329.22,427.53 329.78,427.89 330.33,428.25 330.85,428.61 331.31,428.97 331.68,429.32 331.97,429.68 332.14,430.04 332.20,430.40 331.10,432.20 329.70,434.10 328.70,434.50 328.50,437.50"/>
<path d="M326.7,436.8 L328.5,441.0 L330.3,436.8 Z" fill="#f01818"/>
<polyline fill="none" stroke="#f01818" stroke-width="1.15" stroke-linejoin="round" points="339.10,409.10 339.04,409.46 338.87,409.82 338.58,410.18 338.21,410.53 337.75,410.89 337.23,411.25 336.68,411.61 336.12,411.97 335.57,412.33 335.05,412.68 334.59,413.04 334.22,413.40 333.93,413.76 333.76,414.12 333.70,414.48 333.76,414.83 333.93,415.19 334.22,415.55 334.59,415.91 335.05,416.27 335.57,416.62 336.12,416.98 336.68,417.34 337.23,417.70 337.75,418.06 338.21,418.42 338.58,418.78 338.87,419.13 339.04,419.49 339.10,419.85 339.04,420.21 338.87,420.57 338.58,420.93 338.21,421.28 337.75,421.64 337.23,422.00 336.68,422.36 336.12,422.72 335.57,423.08 335.05,423.43 334.59,423.79 334.22,424.15 333.93,424.51 333.76,424.87 333.70,425.23 333.76,425.58 333.93,425.94 334.22,426.30 334.59,426.66 335.05,427.02 335.57,427.38 336.12,427.73 336.68,428.09 337.23,428.45 337.75,428.81 338.21,429.17 338.58,429.53 338.87,429.88 339.04,430.24 339.10,430.60 338.00,432.40 336.60,434.30 335.60,434.50 335.40,437.50"/>
<path d="M333.6,436.8 L335.4,441.0 L337.2,436.8 Z" fill="#f01818"/>
<polyline fill="none" stroke="#f01818" stroke-width="1.15" stroke-linejoin="round" points="345.50,409.30 345.44,409.66 345.27,410.02 344.98,410.38 344.61,410.73 344.15,411.09 343.63,411.45 343.08,411.81 342.52,412.17 341.97,412.53 341.45,412.88 340.99,413.24 340.62,413.60 340.33,413.96 340.16,414.32 340.10,414.68 340.16,415.03 340.33,415.39 340.62,415.75 340.99,416.11 341.45,416.47 341.97,416.82 342.52,417.18 343.08,417.54 343.63,417.90 344.15,418.26 344.61,418.62 344.98,418.98 345.27,419.33 345.44,419.69 345.50,420.05 345.44,420.41 345.27,420.77 344.98,421.12 344.61,421.48 344.15,421.84 343.63,422.20 343.08,422.56 342.52,422.92 341.97,423.28 341.45,423.63 340.99,423.99 340.62,424.35 340.33,424.71 340.16,425.07 340.10,425.43 340.16,425.78 340.33,426.14 340.62,426.50 340.99,426.86 341.45,427.22 341.97,427.57 342.52,427.93 343.08,428.29 343.63,428.65 344.15,429.01 344.61,429.37 344.98,429.73 345.27,430.08 345.44,430.44 345.50,430.80 344.40,432.60 343.00,434.50 342.00,434.50 341.80,437.50"/>
<path d="M340.0,436.8 L341.8,441.0 L343.6,436.8 Z" fill="#f01818"/>
<polyline fill="none" stroke="#f01818" stroke-width="1.15" stroke-linejoin="round" points="352.10,409.50 352.04,409.86 351.87,410.22 351.58,410.57 351.21,410.93 350.75,411.29 350.23,411.65 349.68,412.01 349.12,412.37 348.57,412.73 348.05,413.08 347.59,413.44 347.22,413.80 346.93,414.16 346.76,414.52 346.70,414.88 346.76,415.23 346.93,415.59 347.22,415.95 347.59,416.31 348.05,416.67 348.57,417.02 349.12,417.38 349.68,417.74 350.23,418.10 350.75,418.46 351.21,418.82 351.58,419.18 351.87,419.53 352.04,419.89 352.10,420.25 352.04,420.61 351.87,420.97 351.58,421.32 351.21,421.68 350.75,422.04 350.23,422.40 349.68,422.76 349.12,423.12 348.57,423.48 348.05,423.83 347.59,424.19 347.22,424.55 346.93,424.91 346.76,425.27 346.70,425.62 346.76,425.98 346.93,426.34 347.22,426.70 347.59,427.06 348.05,427.42 348.57,427.77 349.12,428.13 349.68,428.49 350.23,428.85 350.75,429.21 351.21,429.57 351.58,429.93 351.87,430.28 352.04,430.64 352.10,431.00 351.00,432.80 349.60,434.70 348.60,434.50 348.40,437.50"/>
<path d="M346.6,436.8 L348.4,441.0 L350.2,436.8 Z" fill="#f01818"/>
<polyline fill="none" stroke="#f01818" stroke-width="1.15" stroke-linejoin="round" points="550.00,410.00 549.94,410.36 549.77,410.72 549.48,411.07 549.11,411.43 548.65,411.79 548.13,412.15 547.58,412.51 547.02,412.87 546.47,413.23 545.95,413.58 545.49,413.94 545.12,414.30 544.83,414.66 544.66,415.02 544.60,415.38 544.66,415.73 544.83,416.09 545.12,416.45 545.49,416.81 545.95,417.17 546.47,417.52 547.02,417.88 547.58,418.24 548.13,418.60 548.65,418.96 549.11,419.32 549.48,419.68 549.77,420.03 549.94,420.39 550.00,420.75 549.94,421.11 549.77,421.47 549.48,421.82 549.11,422.18 548.65,422.54 548.13,422.90 547.58,423.26 547.02,423.62 546.47,423.98 545.95,424.33 545.49,424.69 545.12,425.05 544.83,425.41 544.66,425.77 544.60,426.12 544.66,426.48 544.83,426.84 545.12,427.20 545.49,427.56 545.95,427.92 546.47,428.27 547.02,428.63 547.58,428.99 548.13,429.35 548.65,429.71 549.11,430.07 549.48,430.43 549.77,430.78 549.94,431.14 550.00,431.50 548.90,433.30 547.50,435.20 546.50,435.50 546.30,438.50"/>
<path d="M544.5,437.8 L546.3,442.0 L548.1,437.8 Z" fill="#f01818"/>
<polyline fill="none" stroke="#f01818" stroke-width="1.15" stroke-linejoin="round" points="557.10,410.20 557.04,410.56 556.87,410.92 556.58,411.27 556.21,411.63 555.75,411.99 555.23,412.35 554.68,412.71 554.12,413.07 553.57,413.43 553.05,413.78 552.59,414.14 552.22,414.50 551.93,414.86 551.76,415.22 551.70,415.57 551.76,415.93 551.93,416.29 552.22,416.65 552.59,417.01 553.05,417.37 553.57,417.72 554.12,418.08 554.68,418.44 555.23,418.80 555.75,419.16 556.21,419.52 556.58,419.88 556.87,420.23 557.04,420.59 557.10,420.95 557.04,421.31 556.87,421.67 556.58,422.02 556.21,422.38 555.75,422.74 555.23,423.10 554.68,423.46 554.12,423.82 553.57,424.18 553.05,424.53 552.59,424.89 552.22,425.25 551.93,425.61 551.76,425.97 551.70,426.32 551.76,426.68 551.93,427.04 552.22,427.40 552.59,427.76 553.05,428.12 553.57,428.47 554.12,428.83 554.68,429.19 555.23,429.55 555.75,429.91 556.21,430.27 556.58,430.62 556.87,430.98 557.04,431.34 557.10,431.70 556.00,433.50 554.60,435.40 553.60,435.50 553.40,438.50"/>
<path d="M551.6,437.8 L553.4,442.0 L555.2,437.8 Z" fill="#f01818"/>
<polyline fill="none" stroke="#f01818" stroke-width="1.15" stroke-linejoin="round" points="563.60,410.40 563.54,410.76 563.37,411.12 563.08,411.47 562.71,411.83 562.25,412.19 561.73,412.55 561.18,412.91 560.62,413.27 560.07,413.62 559.55,413.98 559.09,414.34 558.72,414.70 558.43,415.06 558.26,415.42 558.20,415.77 558.26,416.13 558.43,416.49 558.72,416.85 559.09,417.21 559.55,417.57 560.07,417.92 560.62,418.28 561.18,418.64 561.73,419.00 562.25,419.36 562.71,419.72 563.08,420.07 563.37,420.43 563.54,420.79 563.60,421.15 563.54,421.51 563.37,421.87 563.08,422.22 562.71,422.58 562.25,422.94 561.73,423.30 561.18,423.66 560.62,424.02 560.07,424.38 559.55,424.73 559.09,425.09 558.72,425.45 558.43,425.81 558.26,426.17 558.20,426.52 558.26,426.88 558.43,427.24 558.72,427.60 559.09,427.96 559.55,428.32 560.07,428.67 560.62,429.03 561.18,429.39 561.73,429.75 562.25,430.11 562.71,430.47 563.08,430.82 563.37,431.18 563.54,431.54 563.60,431.90 562.50,433.70 561.10,435.60 560.10,435.50 559.90,438.50"/>
<path d="M558.1,437.8 L559.9,442.0 L561.7,437.8 Z" fill="#f01818"/>
<polyline fill="none" stroke="#f01818" stroke-width="1.15" stroke-linejoin="round" points="570.70,410.60 570.64,410.96 570.47,411.32 570.18,411.68 569.81,412.03 569.35,412.39 568.83,412.75 568.28,413.11 567.72,413.47 567.17,413.83 566.65,414.18 566.19,414.54 565.82,414.90 565.53,415.26 565.36,415.62 565.30,415.98 565.36,416.33 565.53,416.69 565.82,417.05 566.19,417.41 566.65,417.77 567.17,418.12 567.72,418.48 568.28,418.84 568.83,419.20 569.35,419.56 569.81,419.92 570.18,420.28 570.47,420.63 570.64,420.99 570.70,421.35 570.64,421.71 570.47,422.07 570.18,422.43 569.81,422.78 569.35,423.14 568.83,423.50 568.28,423.86 567.72,424.22 567.17,424.58 566.65,424.93 566.19,425.29 565.82,425.65 565.53,426.01 565.36,426.37 565.30,426.73 565.36,427.08 565.53,427.44 565.82,427.80 566.19,428.16 566.65,428.52 567.17,428.88 567.72,429.23 568.28,429.59 568.83,429.95 569.35,430.31 569.81,430.67 570.18,431.03 570.47,431.38 570.64,431.74 570.70,432.10 569.60,433.90 568.20,435.80 567.20,435.50 567.00,438.50"/>
<path d="M565.2,437.8 L567.0,442.0 L568.8,437.8 Z" fill="#f01818"/>
<polyline fill="none" stroke="#f01818" stroke-width="1.15" stroke-linejoin="round" points="577.30,410.80 577.24,411.16 577.07,411.52 576.78,411.88 576.41,412.23 575.95,412.59 575.43,412.95 574.88,413.31 574.32,413.67 573.77,414.03 573.25,414.38 572.79,414.74 572.42,415.10 572.13,415.46 571.96,415.82 571.90,416.18 571.96,416.53 572.13,416.89 572.42,417.25 572.79,417.61 573.25,417.97 573.77,418.32 574.32,418.68 574.88,419.04 575.43,419.40 575.95,419.76 576.41,420.12 576.78,420.48 577.07,420.83 577.24,421.19 577.30,421.55 577.24,421.91 577.07,422.27 576.78,422.62 576.41,422.98 575.95,423.34 575.43,423.70 574.88,424.06 574.32,424.42 573.77,424.78 573.25,425.13 572.79,425.49 572.42,425.85 572.13,426.21 571.96,426.57 571.90,426.93 571.96,427.28 572.13,427.64 572.42,428.00 572.79,428.36 573.25,428.72 573.77,429.07 574.32,429.43 574.88,429.79 575.43,430.15 575.95,430.51 576.41,430.87 576.78,431.23 577.07,431.58 577.24,431.94 577.30,432.30 576.20,434.10 574.80,436.00 573.80,435.50 573.60,438.50"/>
<path d="M571.8,437.8 L573.6,442.0 L575.4,437.8 Z" fill="#f01818"/>
<polyline fill="none" stroke="#f01818" stroke-width="1.15" stroke-linejoin="round" points="584.10,411.00 584.04,411.36 583.87,411.72 583.58,412.07 583.21,412.43 582.75,412.79 582.23,413.15 581.68,413.51 581.12,413.87 580.57,414.23 580.05,414.58 579.59,414.94 579.22,415.30 578.93,415.66 578.76,416.02 578.70,416.38 578.76,416.73 578.93,417.09 579.22,417.45 579.59,417.81 580.05,418.17 580.57,418.52 581.12,418.88 581.68,419.24 582.23,419.60 582.75,419.96 583.21,420.32 583.58,420.68 583.87,421.03 584.04,421.39 584.10,421.75 584.04,422.11 583.87,422.47 583.58,422.82 583.21,423.18 582.75,423.54 582.23,423.90 581.68,424.26 581.12,424.62 580.57,424.98 580.05,425.33 579.59,425.69 579.22,426.05 578.93,426.41 578.76,426.77 578.70,427.12 578.76,427.48 578.93,427.84 579.22,428.20 579.59,428.56 580.05,428.92 580.57,429.27 581.12,429.63 581.68,429.99 582.23,430.35 582.75,430.71 583.21,431.07 583.58,431.43 583.87,431.78 584.04,432.14 584.10,432.50 583.00,434.30 581.60,436.20 580.60,435.50 580.40,438.50"/>
<path d="M578.6,437.8 L580.4,442.0 L582.2,437.8 Z" fill="#f01818"/>
<circle cx="314.1" cy="459.6" r="2.2" fill="none" stroke="#a8a8a8" stroke-width="0.8"/>
<circle cx="323.3" cy="459.6" r="2.2" fill="none" stroke="#a8a8a8" stroke-width="0.8"/>
<circle cx="331.6" cy="459.6" r="2.2" fill="none" stroke="#a8a8a8" stroke-width="0.8"/>
<circle cx="339.6" cy="459.6" r="2.2" fill="none" stroke="#a8a8a8" stroke-width="0.8"/>
<circle cx="347.7" cy="459.6" r="2.2" fill="none" stroke="#a8a8a8" stroke-width="0.8"/>
<circle cx="356" cy="459.6" r="2.2" fill="none" stroke="#a8a8a8" stroke-width="0.8"/>
<line x1="328.7" y1="454" x2="339" y2="454" stroke="#999" stroke-width="1"/><path d="M338.5,452.2 L341.5,454 L338.5,455.8 Z" fill="#999"/>
<text x="363.5" y="461.8" font-size="10.5" font-style="italic" fill="#a0a0a0" font-family="Liberation Sans, sans-serif" stroke="#a0a0a0" stroke-width="0.15">h<tspan dy="-4.5" font-size="6">+</tspan></text>
<rect x="273.5" y="468.2" width="136.8" height="19.5" fill="none" stroke="#1a3cf0" stroke-width="1" stroke-dasharray="3.2,2"/>
<text x="415" y="483.3" font-size="11.6" fill="#1414f0" font-family="Liberation Sans, sans-serif" stroke="#1414f0" stroke-width="0.15">Redox</text>
<circle cx="308.7" cy="475.2" r="2.6" fill="#ff0a0a"/>
<circle cx="322.4" cy="475.2" r="2.6" fill="#ff0a0a"/>
<circle cx="335.3" cy="475.2" r="2.6" fill="#ff0a0a"/>
<circle cx="348.1" cy="475.2" r="2.6" fill="#ff0a0a"/>
<circle cx="361.2" cy="475.2" r="2.6" fill="#ff0a0a"/>
<circle cx="373.9" cy="475.2" r="2.6" fill="#ff0a0a"/>
<text x="295.2" y="479" font-size="12" font-style="italic" fill="#e01818" font-family="Liberation Sans, sans-serif" stroke="#e01818" stroke-width="0.15">e<tspan dy="-5" font-size="6.5">−</tspan></text>
<line x1="380.8" y1="468.4" x2="380.8" y2="475" stroke="#e81818" stroke-width="1.3"/><path d="M378.6,474.5 L380.8,479 L383,474.5 Z" fill="#e81818"/>
<path d="M211.7,512.6 H226.1 V507.9 L235.4,517.2 L226.1,526.4 V521.9 H211.7 Z" fill="#7f7f7f"/>
<path d="M445.1,513.1 H459.5 V508.9 L468.9,517.9 L459.5,527.2 V522.8 H445.1 Z" fill="#7f7f7f"/>
</svg>
</body></html>
